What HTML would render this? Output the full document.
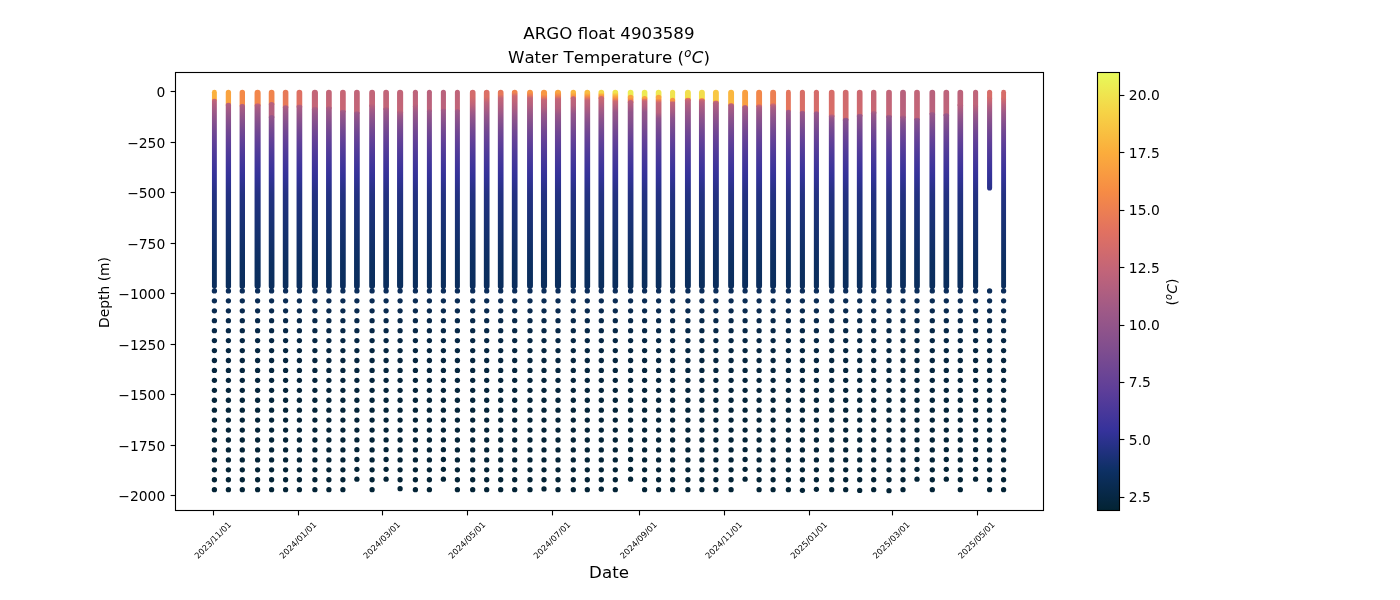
<!DOCTYPE html>
<html lang="en"><head><meta charset="utf-8"><title>ARGO float 4903589</title>
<style>html,body{margin:0;padding:0;background:#fff}svg{display:block}text{font-family:"DejaVu Sans","Liberation Sans",sans-serif;fill:#000}</style></head><body>
<svg width="1400" height="600" viewBox="0 0 1400 600">
<rect width="1400" height="600" fill="#fff"/>
<defs><linearGradient id="g0" gradientUnits="userSpaceOnUse" x1="0" x2="0" y1="98.6" y2="289.6"><stop offset="0.0000" stop-color="#f48947"/><stop offset="0.0026" stop-color="#ce696f"/><stop offset="0.0052" stop-color="#c46577"/><stop offset="0.0079" stop-color="#c06479"/><stop offset="0.0105" stop-color="#bf637a"/><stop offset="0.0157" stop-color="#bb627b"/><stop offset="0.0209" stop-color="#b8617d"/><stop offset="0.0314" stop-color="#b15f7f"/><stop offset="0.0419" stop-color="#ac5d82"/><stop offset="0.0576" stop-color="#a35b85"/><stop offset="0.0786" stop-color="#995788"/><stop offset="0.1210" stop-color="#86508d"/><stop offset="0.1697" stop-color="#734892"/><stop offset="0.2168" stop-color="#644197"/><stop offset="0.2639" stop-color="#553c99"/><stop offset="0.3132" stop-color="#48389a"/><stop offset="0.3614" stop-color="#3d349b"/><stop offset="0.4090" stop-color="#333298"/><stop offset="0.4577" stop-color="#2b318d"/><stop offset="0.5048" stop-color="#233182"/><stop offset="0.6709" stop-color="#173172"/><stop offset="0.8610" stop-color="#0c2f61"/><stop offset="0.9762" stop-color="#0b2e5d"/><stop offset="1.0000" stop-color="#0b2e5b"/></linearGradient>
<linearGradient id="g1" gradientUnits="userSpaceOnUse" x1="0" x2="0" y1="102.6" y2="289.4"><stop offset="0.0000" stop-color="#ec7f52"/><stop offset="0.0027" stop-color="#c26578"/><stop offset="0.0054" stop-color="#b7617d"/><stop offset="0.0080" stop-color="#b4607e"/><stop offset="0.0107" stop-color="#b25f7f"/><stop offset="0.0161" stop-color="#ae5e80"/><stop offset="0.0214" stop-color="#ac5d82"/><stop offset="0.0321" stop-color="#a65b84"/><stop offset="0.0428" stop-color="#a05a86"/><stop offset="0.0589" stop-color="#995788"/><stop offset="0.0803" stop-color="#8f548b"/><stop offset="0.1023" stop-color="#86508d"/><stop offset="0.1521" stop-color="#734892"/><stop offset="0.2003" stop-color="#644197"/><stop offset="0.2485" stop-color="#553c99"/><stop offset="0.2988" stop-color="#48389a"/><stop offset="0.3481" stop-color="#3d349b"/><stop offset="0.3968" stop-color="#333298"/><stop offset="0.4466" stop-color="#2b318d"/><stop offset="0.4948" stop-color="#233182"/><stop offset="0.6645" stop-color="#173172"/><stop offset="0.8589" stop-color="#0c2f61"/><stop offset="0.9767" stop-color="#0b2e5d"/><stop offset="1.0000" stop-color="#0b2e5c"/></linearGradient>
<linearGradient id="g2" gradientUnits="userSpaceOnUse" x1="0" x2="0" y1="103.7" y2="289.3"><stop offset="0.0000" stop-color="#e17260"/><stop offset="0.0027" stop-color="#bc627b"/><stop offset="0.0054" stop-color="#b3607f"/><stop offset="0.0081" stop-color="#b05f80"/><stop offset="0.0108" stop-color="#ae5e80"/><stop offset="0.0162" stop-color="#ab5d82"/><stop offset="0.0216" stop-color="#a85c83"/><stop offset="0.0323" stop-color="#a35a85"/><stop offset="0.0431" stop-color="#9d5987"/><stop offset="0.0593" stop-color="#965689"/><stop offset="0.0808" stop-color="#8d538b"/><stop offset="0.0970" stop-color="#86508d"/><stop offset="0.1471" stop-color="#734892"/><stop offset="0.1956" stop-color="#644197"/><stop offset="0.2441" stop-color="#553c99"/><stop offset="0.2947" stop-color="#48389a"/><stop offset="0.3443" stop-color="#3d349b"/><stop offset="0.3933" stop-color="#333298"/><stop offset="0.4434" stop-color="#2b318d"/><stop offset="0.4919" stop-color="#233182"/><stop offset="0.6627" stop-color="#173172"/><stop offset="0.8583" stop-color="#0c2f61"/><stop offset="0.9768" stop-color="#0b2e5d"/><stop offset="1.0000" stop-color="#0b2e5c"/></linearGradient>
<linearGradient id="g3" gradientUnits="userSpaceOnUse" x1="0" x2="0" y1="103.1" y2="288.9"><stop offset="0.0000" stop-color="#ea7c55"/><stop offset="0.0027" stop-color="#d46c6b"/><stop offset="0.0054" stop-color="#c56676"/><stop offset="0.0081" stop-color="#bb627b"/><stop offset="0.0108" stop-color="#b5607e"/><stop offset="0.0161" stop-color="#af5e80"/><stop offset="0.0215" stop-color="#ab5d82"/><stop offset="0.0323" stop-color="#a45b84"/><stop offset="0.0430" stop-color="#9f5987"/><stop offset="0.0592" stop-color="#975789"/><stop offset="0.0807" stop-color="#8e538b"/><stop offset="0.1001" stop-color="#86508d"/><stop offset="0.1501" stop-color="#734892"/><stop offset="0.1985" stop-color="#644197"/><stop offset="0.2470" stop-color="#553c99"/><stop offset="0.2976" stop-color="#48389a"/><stop offset="0.3471" stop-color="#3d349b"/><stop offset="0.3960" stop-color="#333298"/><stop offset="0.4461" stop-color="#2b318d"/><stop offset="0.4945" stop-color="#233182"/><stop offset="0.6651" stop-color="#173172"/><stop offset="0.8604" stop-color="#0c2f61"/><stop offset="0.9787" stop-color="#0b2e5d"/><stop offset="1.0000" stop-color="#0b2e5c"/></linearGradient>
<linearGradient id="g4" gradientUnits="userSpaceOnUse" x1="0" x2="0" y1="102.0" y2="115.0"><stop offset="0.0000" stop-color="#b8617c"/><stop offset="1.0000" stop-color="#b25f7f"/></linearGradient>
<linearGradient id="g5" gradientUnits="userSpaceOnUse" x1="0" x2="0" y1="115.0" y2="289.1"><stop offset="0.0000" stop-color="#975689"/><stop offset="0.0385" stop-color="#86508d"/><stop offset="0.0500" stop-color="#824f8e"/><stop offset="0.0614" stop-color="#7e4d8f"/><stop offset="0.0787" stop-color="#784a91"/><stop offset="0.1016" stop-color="#704793"/><stop offset="0.1246" stop-color="#6a4495"/><stop offset="0.1436" stop-color="#644197"/><stop offset="0.1952" stop-color="#553c99"/><stop offset="0.2492" stop-color="#48389a"/><stop offset="0.3020" stop-color="#3d349b"/><stop offset="0.3543" stop-color="#333298"/><stop offset="0.4077" stop-color="#2b318d"/><stop offset="0.4594" stop-color="#233182"/><stop offset="0.6414" stop-color="#173172"/><stop offset="0.8498" stop-color="#0c2f61"/><stop offset="0.9762" stop-color="#0b2e5d"/><stop offset="1.0000" stop-color="#0b2e5c"/></linearGradient>
<linearGradient id="g6" gradientUnits="userSpaceOnUse" x1="0" x2="0" y1="104.9" y2="289.2"><stop offset="0.0000" stop-color="#de7063"/><stop offset="0.0027" stop-color="#c46577"/><stop offset="0.0054" stop-color="#b7617d"/><stop offset="0.0081" stop-color="#b05f80"/><stop offset="0.0109" stop-color="#ad5e81"/><stop offset="0.0163" stop-color="#a85c83"/><stop offset="0.0217" stop-color="#a55b84"/><stop offset="0.0326" stop-color="#9f5987"/><stop offset="0.0434" stop-color="#9a5888"/><stop offset="0.0597" stop-color="#93558a"/><stop offset="0.0814" stop-color="#8a528c"/><stop offset="0.0912" stop-color="#86508d"/><stop offset="0.1416" stop-color="#734892"/><stop offset="0.1905" stop-color="#644197"/><stop offset="0.2393" stop-color="#553c99"/><stop offset="0.2903" stop-color="#48389a"/><stop offset="0.3402" stop-color="#3d349b"/><stop offset="0.3896" stop-color="#333298"/><stop offset="0.4400" stop-color="#2b318d"/><stop offset="0.4889" stop-color="#233182"/><stop offset="0.6609" stop-color="#173172"/><stop offset="0.8578" stop-color="#0c2f61"/><stop offset="0.9772" stop-color="#0b2e5d"/><stop offset="1.0000" stop-color="#0b2e5c"/></linearGradient>
<linearGradient id="g7" gradientUnits="userSpaceOnUse" x1="0" x2="0" y1="104.3" y2="289.1"><stop offset="0.0000" stop-color="#d56c6a"/><stop offset="0.0027" stop-color="#c16479"/><stop offset="0.0054" stop-color="#b7617d"/><stop offset="0.0081" stop-color="#b15f7f"/><stop offset="0.0108" stop-color="#ae5e81"/><stop offset="0.0162" stop-color="#aa5d82"/><stop offset="0.0216" stop-color="#a75c84"/><stop offset="0.0325" stop-color="#a15a86"/><stop offset="0.0433" stop-color="#9c5888"/><stop offset="0.0595" stop-color="#955589"/><stop offset="0.0811" stop-color="#8c528c"/><stop offset="0.0941" stop-color="#86508d"/><stop offset="0.1444" stop-color="#734892"/><stop offset="0.1931" stop-color="#644197"/><stop offset="0.2418" stop-color="#553c99"/><stop offset="0.2927" stop-color="#48389a"/><stop offset="0.3424" stop-color="#3d349b"/><stop offset="0.3917" stop-color="#333298"/><stop offset="0.4420" stop-color="#2b318d"/><stop offset="0.4907" stop-color="#233182"/><stop offset="0.6622" stop-color="#173172"/><stop offset="0.8585" stop-color="#0c2f61"/><stop offset="0.9775" stop-color="#0b2e5d"/><stop offset="1.0000" stop-color="#0b2e5c"/></linearGradient>
<linearGradient id="g8" gradientUnits="userSpaceOnUse" x1="0" x2="0" y1="106.6" y2="288.9"><stop offset="0.0000" stop-color="#bf637a"/><stop offset="0.0027" stop-color="#b5607e"/><stop offset="0.0055" stop-color="#af5e80"/><stop offset="0.0082" stop-color="#ab5d82"/><stop offset="0.0110" stop-color="#a85c83"/><stop offset="0.0165" stop-color="#a45b85"/><stop offset="0.0219" stop-color="#a05a86"/><stop offset="0.0329" stop-color="#9b5888"/><stop offset="0.0439" stop-color="#965689"/><stop offset="0.0603" stop-color="#8f548b"/><stop offset="0.0823" stop-color="#86508d"/><stop offset="0.0828" stop-color="#86508d"/><stop offset="0.1338" stop-color="#734892"/><stop offset="0.1832" stop-color="#644197"/><stop offset="0.2325" stop-color="#553c99"/><stop offset="0.2841" stop-color="#48389a"/><stop offset="0.3345" stop-color="#3d349b"/><stop offset="0.3844" stop-color="#333298"/><stop offset="0.4354" stop-color="#2b318d"/><stop offset="0.4848" stop-color="#233182"/><stop offset="0.6586" stop-color="#173172"/><stop offset="0.8577" stop-color="#0c2f61"/><stop offset="0.9783" stop-color="#0b2e5d"/><stop offset="1.0000" stop-color="#0b2e5c"/></linearGradient>
<linearGradient id="g9" gradientUnits="userSpaceOnUse" x1="0" x2="0" y1="106.0" y2="289.1"><stop offset="0.0000" stop-color="#c06479"/><stop offset="0.0027" stop-color="#b8617d"/><stop offset="0.0055" stop-color="#b25f7f"/><stop offset="0.0082" stop-color="#ae5e81"/><stop offset="0.0109" stop-color="#ab5d82"/><stop offset="0.0164" stop-color="#a65c84"/><stop offset="0.0218" stop-color="#a25a85"/><stop offset="0.0328" stop-color="#9c5887"/><stop offset="0.0437" stop-color="#985789"/><stop offset="0.0601" stop-color="#91548a"/><stop offset="0.0819" stop-color="#88518d"/><stop offset="0.0857" stop-color="#86508d"/><stop offset="0.1365" stop-color="#734892"/><stop offset="0.1856" stop-color="#644197"/><stop offset="0.2348" stop-color="#553c99"/><stop offset="0.2861" stop-color="#48389a"/><stop offset="0.3363" stop-color="#3d349b"/><stop offset="0.3860" stop-color="#333298"/><stop offset="0.4368" stop-color="#2b318d"/><stop offset="0.4859" stop-color="#233182"/><stop offset="0.6590" stop-color="#173172"/><stop offset="0.8572" stop-color="#0c2f61"/><stop offset="0.9773" stop-color="#0b2e5d"/><stop offset="1.0000" stop-color="#0b2e5c"/></linearGradient>
<linearGradient id="g10" gradientUnits="userSpaceOnUse" x1="0" x2="0" y1="109.4" y2="289.1"><stop offset="0.0000" stop-color="#c16479"/><stop offset="0.0028" stop-color="#b35f7f"/><stop offset="0.0056" stop-color="#aa5d82"/><stop offset="0.0083" stop-color="#a45b84"/><stop offset="0.0111" stop-color="#a15a86"/><stop offset="0.0167" stop-color="#9c5887"/><stop offset="0.0223" stop-color="#995788"/><stop offset="0.0334" stop-color="#945589"/><stop offset="0.0445" stop-color="#90548b"/><stop offset="0.0612" stop-color="#89518c"/><stop offset="0.0834" stop-color="#814e8e"/><stop offset="0.1202" stop-color="#734892"/><stop offset="0.1702" stop-color="#644197"/><stop offset="0.2203" stop-color="#553c99"/><stop offset="0.2726" stop-color="#48389a"/><stop offset="0.3238" stop-color="#3d349b"/><stop offset="0.3744" stop-color="#333298"/><stop offset="0.4261" stop-color="#2b318d"/><stop offset="0.4762" stop-color="#233182"/><stop offset="0.6526" stop-color="#173172"/><stop offset="0.8545" stop-color="#0c2f61"/><stop offset="0.9769" stop-color="#0b2e5d"/><stop offset="1.0000" stop-color="#0b2e5c"/></linearGradient>
<linearGradient id="g11" gradientUnits="userSpaceOnUse" x1="0" x2="0" y1="111.0" y2="289.1"><stop offset="0.0000" stop-color="#bd637a"/><stop offset="0.0028" stop-color="#b15f80"/><stop offset="0.0056" stop-color="#a85c83"/><stop offset="0.0084" stop-color="#a25a85"/><stop offset="0.0112" stop-color="#9e5987"/><stop offset="0.0168" stop-color="#995788"/><stop offset="0.0225" stop-color="#965689"/><stop offset="0.0337" stop-color="#91548a"/><stop offset="0.0449" stop-color="#8c528b"/><stop offset="0.0617" stop-color="#85508d"/><stop offset="0.0842" stop-color="#7d4d8f"/><stop offset="0.1123" stop-color="#734892"/><stop offset="0.1628" stop-color="#644197"/><stop offset="0.2133" stop-color="#553c99"/><stop offset="0.2661" stop-color="#48389a"/><stop offset="0.3177" stop-color="#3d349b"/><stop offset="0.3688" stop-color="#333298"/><stop offset="0.4210" stop-color="#2b318d"/><stop offset="0.4715" stop-color="#233182"/><stop offset="0.6495" stop-color="#173172"/><stop offset="0.8532" stop-color="#0c2f61"/><stop offset="0.9767" stop-color="#0b2e5d"/><stop offset="1.0000" stop-color="#0b2e5c"/></linearGradient>
<linearGradient id="g12" gradientUnits="userSpaceOnUse" x1="0" x2="0" y1="103.5" y2="289.1"><stop offset="0.0000" stop-color="#c26479"/><stop offset="0.0027" stop-color="#bf637a"/><stop offset="0.0054" stop-color="#bc637b"/><stop offset="0.0081" stop-color="#ba627c"/><stop offset="0.0108" stop-color="#b7617d"/><stop offset="0.0162" stop-color="#b25f7f"/><stop offset="0.0216" stop-color="#ae5e81"/><stop offset="0.0323" stop-color="#a65b84"/><stop offset="0.0431" stop-color="#9f5987"/><stop offset="0.0593" stop-color="#975689"/><stop offset="0.0808" stop-color="#8d538b"/><stop offset="0.0981" stop-color="#86508d"/><stop offset="0.1482" stop-color="#734892"/><stop offset="0.1967" stop-color="#644197"/><stop offset="0.2452" stop-color="#553c99"/><stop offset="0.2958" stop-color="#48389a"/><stop offset="0.3454" stop-color="#3d349b"/><stop offset="0.3944" stop-color="#333298"/><stop offset="0.4445" stop-color="#2b318d"/><stop offset="0.4930" stop-color="#233182"/><stop offset="0.6638" stop-color="#173172"/><stop offset="0.8594" stop-color="#0c2f61"/><stop offset="0.9779" stop-color="#0b2e5d"/><stop offset="1.0000" stop-color="#0b2e5c"/></linearGradient>
<linearGradient id="g13" gradientUnits="userSpaceOnUse" x1="0" x2="0" y1="107.0" y2="289.1"><stop offset="0.0000" stop-color="#bf637a"/><stop offset="0.0027" stop-color="#b6617d"/><stop offset="0.0055" stop-color="#b05f80"/><stop offset="0.0082" stop-color="#ac5d82"/><stop offset="0.0110" stop-color="#a85c83"/><stop offset="0.0165" stop-color="#a35b85"/><stop offset="0.0220" stop-color="#9f5986"/><stop offset="0.0329" stop-color="#9a5788"/><stop offset="0.0439" stop-color="#955689"/><stop offset="0.0604" stop-color="#8e538b"/><stop offset="0.0823" stop-color="#85508d"/><stop offset="0.1318" stop-color="#734892"/><stop offset="0.1812" stop-color="#644197"/><stop offset="0.2306" stop-color="#553c99"/><stop offset="0.2822" stop-color="#48389a"/><stop offset="0.3327" stop-color="#3d349b"/><stop offset="0.3827" stop-color="#333298"/><stop offset="0.4337" stop-color="#2b318d"/><stop offset="0.4831" stop-color="#233182"/><stop offset="0.6572" stop-color="#173172"/><stop offset="0.8564" stop-color="#0c2f61"/><stop offset="0.9772" stop-color="#0b2e5d"/><stop offset="1.0000" stop-color="#0b2e5c"/></linearGradient>
<linearGradient id="g14" gradientUnits="userSpaceOnUse" x1="0" x2="0" y1="110.0" y2="288.9"><stop offset="0.0000" stop-color="#c16479"/><stop offset="0.0028" stop-color="#bd637a"/><stop offset="0.0056" stop-color="#ba627c"/><stop offset="0.0084" stop-color="#b6617d"/><stop offset="0.0112" stop-color="#b25f7f"/><stop offset="0.0168" stop-color="#ac5d81"/><stop offset="0.0224" stop-color="#a65c84"/><stop offset="0.0335" stop-color="#9d5887"/><stop offset="0.0447" stop-color="#955689"/><stop offset="0.0615" stop-color="#8b528c"/><stop offset="0.0838" stop-color="#814e8e"/><stop offset="0.1174" stop-color="#744892"/><stop offset="0.1676" stop-color="#644197"/><stop offset="0.2179" stop-color="#553c99"/><stop offset="0.2705" stop-color="#48389a"/><stop offset="0.3219" stop-color="#3d349b"/><stop offset="0.3727" stop-color="#333298"/><stop offset="0.4247" stop-color="#2b318d"/><stop offset="0.4750" stop-color="#233182"/><stop offset="0.6521" stop-color="#173172"/><stop offset="0.8550" stop-color="#0c2f61"/><stop offset="0.9779" stop-color="#0b2e5d"/><stop offset="1.0000" stop-color="#0b2e5c"/></linearGradient>
<linearGradient id="g15" gradientUnits="userSpaceOnUse" x1="0" x2="0" y1="104.0" y2="289.4"><stop offset="0.0000" stop-color="#be637a"/><stop offset="0.0027" stop-color="#bb627b"/><stop offset="0.0054" stop-color="#b9627c"/><stop offset="0.0081" stop-color="#b7617d"/><stop offset="0.0108" stop-color="#b5607e"/><stop offset="0.0162" stop-color="#b05f80"/><stop offset="0.0216" stop-color="#ac5d81"/><stop offset="0.0324" stop-color="#a45b85"/><stop offset="0.0431" stop-color="#9d5987"/><stop offset="0.0593" stop-color="#965689"/><stop offset="0.0809" stop-color="#8c528b"/><stop offset="0.0954" stop-color="#86508d"/><stop offset="0.1456" stop-color="#734892"/><stop offset="0.1941" stop-color="#644197"/><stop offset="0.2427" stop-color="#553c99"/><stop offset="0.2933" stop-color="#48389a"/><stop offset="0.3429" stop-color="#3d349b"/><stop offset="0.3920" stop-color="#333298"/><stop offset="0.4422" stop-color="#2b318d"/><stop offset="0.4907" stop-color="#233182"/><stop offset="0.6616" stop-color="#173172"/><stop offset="0.8574" stop-color="#0c2f61"/><stop offset="0.9760" stop-color="#0b2e5d"/><stop offset="1.0000" stop-color="#0b2e5c"/></linearGradient>
<linearGradient id="g16" gradientUnits="userSpaceOnUse" x1="0" x2="0" y1="109.0" y2="289.5"><stop offset="0.0000" stop-color="#b7617d"/><stop offset="0.0028" stop-color="#af5e80"/><stop offset="0.0055" stop-color="#aa5d82"/><stop offset="0.0083" stop-color="#a55b84"/><stop offset="0.0111" stop-color="#a25a85"/><stop offset="0.0166" stop-color="#9d5987"/><stop offset="0.0222" stop-color="#9a5888"/><stop offset="0.0332" stop-color="#955689"/><stop offset="0.0443" stop-color="#91548a"/><stop offset="0.0609" stop-color="#8a518c"/><stop offset="0.0831" stop-color="#814e8e"/><stop offset="0.1219" stop-color="#734892"/><stop offset="0.1717" stop-color="#644197"/><stop offset="0.2216" stop-color="#553c99"/><stop offset="0.2737" stop-color="#48389a"/><stop offset="0.3247" stop-color="#3d349b"/><stop offset="0.3751" stop-color="#333298"/><stop offset="0.4266" stop-color="#2b318d"/><stop offset="0.4765" stop-color="#233182"/><stop offset="0.6521" stop-color="#173172"/><stop offset="0.8532" stop-color="#0c2f61"/><stop offset="0.9751" stop-color="#0b2e5d"/><stop offset="1.0000" stop-color="#0b2e5b"/></linearGradient>
<linearGradient id="g17" gradientUnits="userSpaceOnUse" x1="0" x2="0" y1="108.3" y2="289.4"><stop offset="0.0000" stop-color="#b5607e"/><stop offset="0.0028" stop-color="#ab5d82"/><stop offset="0.0055" stop-color="#a65c84"/><stop offset="0.0083" stop-color="#a35b85"/><stop offset="0.0110" stop-color="#a15a86"/><stop offset="0.0166" stop-color="#9e5987"/><stop offset="0.0221" stop-color="#9c5888"/><stop offset="0.0331" stop-color="#975689"/><stop offset="0.0442" stop-color="#92558a"/><stop offset="0.0607" stop-color="#8c528c"/><stop offset="0.0828" stop-color="#834f8e"/><stop offset="0.1253" stop-color="#734892"/><stop offset="0.1750" stop-color="#644197"/><stop offset="0.2247" stop-color="#553c99"/><stop offset="0.2766" stop-color="#48389a"/><stop offset="0.3274" stop-color="#3d349b"/><stop offset="0.3776" stop-color="#333298"/><stop offset="0.4289" stop-color="#2b318d"/><stop offset="0.4786" stop-color="#233182"/><stop offset="0.6536" stop-color="#173172"/><stop offset="0.8540" stop-color="#0c2f61"/><stop offset="0.9754" stop-color="#0b2e5d"/><stop offset="1.0000" stop-color="#0b2e5c"/></linearGradient>
<linearGradient id="g18" gradientUnits="userSpaceOnUse" x1="0" x2="0" y1="108.9" y2="289.5"><stop offset="0.0000" stop-color="#b9627c"/><stop offset="0.0028" stop-color="#ab5d82"/><stop offset="0.0055" stop-color="#a55b84"/><stop offset="0.0083" stop-color="#a25a85"/><stop offset="0.0111" stop-color="#a05a86"/><stop offset="0.0166" stop-color="#9d5887"/><stop offset="0.0221" stop-color="#9a5888"/><stop offset="0.0332" stop-color="#965689"/><stop offset="0.0443" stop-color="#91548a"/><stop offset="0.0609" stop-color="#8a528c"/><stop offset="0.0831" stop-color="#824e8e"/><stop offset="0.1224" stop-color="#734892"/><stop offset="0.1722" stop-color="#644197"/><stop offset="0.2220" stop-color="#553c99"/><stop offset="0.2741" stop-color="#48389a"/><stop offset="0.3250" stop-color="#3d349b"/><stop offset="0.3754" stop-color="#333298"/><stop offset="0.4269" stop-color="#2b318d"/><stop offset="0.4767" stop-color="#233182"/><stop offset="0.6523" stop-color="#173172"/><stop offset="0.8533" stop-color="#0c2f61"/><stop offset="0.9751" stop-color="#0b2e5d"/><stop offset="1.0000" stop-color="#0b2e5b"/></linearGradient>
<linearGradient id="g19" gradientUnits="userSpaceOnUse" x1="0" x2="0" y1="90.0" y2="289.1"><stop offset="0.0000" stop-color="#d36b6c"/><stop offset="0.0346" stop-color="#d36b6c"/><stop offset="0.0748" stop-color="#be637a"/><stop offset="0.1090" stop-color="#a25a85"/><stop offset="0.1190" stop-color="#9c5888"/><stop offset="0.1290" stop-color="#965689"/><stop offset="0.1441" stop-color="#8e538b"/><stop offset="0.1642" stop-color="#85508d"/><stop offset="0.1843" stop-color="#7c4c8f"/><stop offset="0.2059" stop-color="#734892"/><stop offset="0.2511" stop-color="#644197"/><stop offset="0.2963" stop-color="#553c99"/><stop offset="0.3435" stop-color="#48389a"/><stop offset="0.3897" stop-color="#3d349b"/><stop offset="0.4354" stop-color="#333298"/><stop offset="0.4820" stop-color="#2b318d"/><stop offset="0.5272" stop-color="#233182"/><stop offset="0.6864" stop-color="#173172"/><stop offset="0.8687" stop-color="#0c2f61"/><stop offset="0.9792" stop-color="#0b2e5d"/><stop offset="1.0000" stop-color="#0b2e5c"/></linearGradient>
<linearGradient id="g20" gradientUnits="userSpaceOnUse" x1="0" x2="0" y1="90.0" y2="289.1"><stop offset="0.0000" stop-color="#dc6f65"/><stop offset="0.0346" stop-color="#dc6f65"/><stop offset="0.0633" stop-color="#be637a"/><stop offset="0.1090" stop-color="#a25a85"/><stop offset="0.1190" stop-color="#9c5888"/><stop offset="0.1290" stop-color="#965689"/><stop offset="0.1441" stop-color="#8e538b"/><stop offset="0.1642" stop-color="#85508d"/><stop offset="0.1843" stop-color="#7c4c8f"/><stop offset="0.2059" stop-color="#734892"/><stop offset="0.2511" stop-color="#644197"/><stop offset="0.2963" stop-color="#553c99"/><stop offset="0.3435" stop-color="#48389a"/><stop offset="0.3897" stop-color="#3d349b"/><stop offset="0.4354" stop-color="#333298"/><stop offset="0.4820" stop-color="#2b318d"/><stop offset="0.5272" stop-color="#233182"/><stop offset="0.6864" stop-color="#173172"/><stop offset="0.8687" stop-color="#0c2f61"/><stop offset="0.9792" stop-color="#0b2e5d"/><stop offset="1.0000" stop-color="#0b2e5c"/></linearGradient>
<linearGradient id="g21" gradientUnits="userSpaceOnUse" x1="0" x2="0" y1="90.0" y2="289.1"><stop offset="0.0000" stop-color="#e6785a"/><stop offset="0.0226" stop-color="#e6785a"/><stop offset="0.0402" stop-color="#c46577"/><stop offset="0.0748" stop-color="#b4607e"/><stop offset="0.1090" stop-color="#a25a85"/><stop offset="0.1190" stop-color="#9c5888"/><stop offset="0.1290" stop-color="#965689"/><stop offset="0.1441" stop-color="#8e538b"/><stop offset="0.1642" stop-color="#85508d"/><stop offset="0.1843" stop-color="#7c4c8f"/><stop offset="0.2059" stop-color="#734892"/><stop offset="0.2511" stop-color="#644197"/><stop offset="0.2963" stop-color="#553c99"/><stop offset="0.3435" stop-color="#48389a"/><stop offset="0.3897" stop-color="#3d349b"/><stop offset="0.4354" stop-color="#333298"/><stop offset="0.4820" stop-color="#2b318d"/><stop offset="0.5272" stop-color="#233182"/><stop offset="0.6864" stop-color="#173172"/><stop offset="0.8687" stop-color="#0c2f61"/><stop offset="0.9792" stop-color="#0b2e5d"/><stop offset="1.0000" stop-color="#0b2e5c"/></linearGradient>
<linearGradient id="g22" gradientUnits="userSpaceOnUse" x1="0" x2="0" y1="90.0" y2="289.1"><stop offset="0.0000" stop-color="#f0844d"/><stop offset="0.0126" stop-color="#f0844d"/><stop offset="0.0301" stop-color="#cd6970"/><stop offset="0.0703" stop-color="#b8617c"/><stop offset="0.1090" stop-color="#a25a85"/><stop offset="0.1190" stop-color="#9c5888"/><stop offset="0.1290" stop-color="#965689"/><stop offset="0.1441" stop-color="#8e538b"/><stop offset="0.1642" stop-color="#85508d"/><stop offset="0.1843" stop-color="#7c4c8f"/><stop offset="0.2059" stop-color="#734892"/><stop offset="0.2511" stop-color="#644197"/><stop offset="0.2963" stop-color="#553c99"/><stop offset="0.3435" stop-color="#48389a"/><stop offset="0.3897" stop-color="#3d349b"/><stop offset="0.4354" stop-color="#333298"/><stop offset="0.4820" stop-color="#2b318d"/><stop offset="0.5272" stop-color="#233182"/><stop offset="0.6864" stop-color="#173172"/><stop offset="0.8687" stop-color="#0c2f61"/><stop offset="0.9792" stop-color="#0b2e5d"/><stop offset="1.0000" stop-color="#0b2e5c"/></linearGradient>
<linearGradient id="g23" gradientUnits="userSpaceOnUse" x1="0" x2="0" y1="90.0" y2="289.1"><stop offset="0.0000" stop-color="#f79343"/><stop offset="0.0126" stop-color="#f79343"/><stop offset="0.0276" stop-color="#e6785a"/><stop offset="0.0402" stop-color="#c46577"/><stop offset="0.0749" stop-color="#b4607e"/><stop offset="0.1090" stop-color="#9e5987"/><stop offset="0.1191" stop-color="#995788"/><stop offset="0.1291" stop-color="#945589"/><stop offset="0.1442" stop-color="#8d538b"/><stop offset="0.1643" stop-color="#844f8d"/><stop offset="0.1844" stop-color="#7c4c90"/><stop offset="0.2060" stop-color="#734892"/><stop offset="0.2512" stop-color="#644197"/><stop offset="0.2964" stop-color="#553c99"/><stop offset="0.3436" stop-color="#48389a"/><stop offset="0.3899" stop-color="#3d349b"/><stop offset="0.4356" stop-color="#333298"/><stop offset="0.4823" stop-color="#2b318d"/><stop offset="0.5275" stop-color="#233182"/><stop offset="0.6868" stop-color="#173172"/><stop offset="0.8691" stop-color="#0c2f61"/><stop offset="0.9797" stop-color="#0b2e5d"/><stop offset="1.0000" stop-color="#0b2e5c"/></linearGradient>
<linearGradient id="g24" gradientUnits="userSpaceOnUse" x1="0" x2="0" y1="90.0" y2="288.9"><stop offset="0.0000" stop-color="#f89742"/><stop offset="0.0226" stop-color="#f89742"/><stop offset="0.0377" stop-color="#e6785a"/><stop offset="0.0503" stop-color="#c46577"/><stop offset="0.0854" stop-color="#b4607e"/><stop offset="0.1206" stop-color="#985788"/><stop offset="0.1307" stop-color="#94558a"/><stop offset="0.1407" stop-color="#8f538b"/><stop offset="0.1558" stop-color="#88518d"/><stop offset="0.1759" stop-color="#804e8f"/><stop offset="0.1960" stop-color="#774a91"/><stop offset="0.2061" stop-color="#734892"/><stop offset="0.2513" stop-color="#644197"/><stop offset="0.2966" stop-color="#553c99"/><stop offset="0.3438" stop-color="#48389a"/><stop offset="0.3900" stop-color="#3d349b"/><stop offset="0.4358" stop-color="#333298"/><stop offset="0.4825" stop-color="#2b318d"/><stop offset="0.5278" stop-color="#233182"/><stop offset="0.6871" stop-color="#173172"/><stop offset="0.8696" stop-color="#0c2f61"/><stop offset="0.9801" stop-color="#0b2e5d"/><stop offset="1.0000" stop-color="#0b2e5c"/></linearGradient>
<linearGradient id="g25" gradientUnits="userSpaceOnUse" x1="0" x2="0" y1="90.0" y2="288.9"><stop offset="0.0000" stop-color="#f9a33f"/><stop offset="0.0126" stop-color="#f9a33f"/><stop offset="0.0302" stop-color="#ec7f52"/><stop offset="0.0452" stop-color="#c46577"/><stop offset="0.0920" stop-color="#b4607e"/><stop offset="0.1257" stop-color="#985788"/><stop offset="0.1357" stop-color="#93558a"/><stop offset="0.1458" stop-color="#8e538b"/><stop offset="0.1608" stop-color="#86508d"/><stop offset="0.1809" stop-color="#7e4d8f"/><stop offset="0.2011" stop-color="#764992"/><stop offset="0.2061" stop-color="#734892"/><stop offset="0.2513" stop-color="#644197"/><stop offset="0.2966" stop-color="#553c99"/><stop offset="0.3438" stop-color="#48389a"/><stop offset="0.3900" stop-color="#3d349b"/><stop offset="0.4358" stop-color="#333298"/><stop offset="0.4825" stop-color="#2b318d"/><stop offset="0.5278" stop-color="#233182"/><stop offset="0.6871" stop-color="#173172"/><stop offset="0.8696" stop-color="#0c2f61"/><stop offset="0.9801" stop-color="#0b2e5d"/><stop offset="1.0000" stop-color="#0b2e5c"/></linearGradient>
<linearGradient id="g26" gradientUnits="userSpaceOnUse" x1="0" x2="0" y1="90.0" y2="96.3"><stop offset="0.0000" stop-color="#fab73f"/><stop offset="0.3968" stop-color="#fab73f"/><stop offset="0.7143" stop-color="#f9a33f"/><stop offset="1.0000" stop-color="#f78f44"/></linearGradient>
<linearGradient id="g27" gradientUnits="userSpaceOnUse" x1="0" x2="0" y1="96.3" y2="289.3"><stop offset="0.0000" stop-color="#c46577"/><stop offset="0.0472" stop-color="#b6617d"/><stop offset="0.0917" stop-color="#93558a"/><stop offset="0.1021" stop-color="#90548b"/><stop offset="0.1124" stop-color="#8c528b"/><stop offset="0.1280" stop-color="#86508d"/><stop offset="0.1487" stop-color="#7f4d8f"/><stop offset="0.1694" stop-color="#774a91"/><stop offset="0.1798" stop-color="#734892"/><stop offset="0.2264" stop-color="#644197"/><stop offset="0.2731" stop-color="#553c99"/><stop offset="0.3218" stop-color="#48389a"/><stop offset="0.3694" stop-color="#3d349b"/><stop offset="0.4166" stop-color="#333298"/><stop offset="0.4648" stop-color="#2b318d"/><stop offset="0.5114" stop-color="#233182"/><stop offset="0.6756" stop-color="#173172"/><stop offset="0.8637" stop-color="#0c2f61"/><stop offset="0.9777" stop-color="#0b2e5d"/><stop offset="1.0000" stop-color="#0b2e5c"/></linearGradient>
<linearGradient id="g28" gradientUnits="userSpaceOnUse" x1="0" x2="0" y1="90.0" y2="289.1"><stop offset="0.0000" stop-color="#f9bc40"/><stop offset="0.0151" stop-color="#f9bc40"/><stop offset="0.0276" stop-color="#f89941"/><stop offset="0.0402" stop-color="#e6785a"/><stop offset="0.0517" stop-color="#c46577"/><stop offset="0.0773" stop-color="#b8617c"/><stop offset="0.1120" stop-color="#a25a85"/><stop offset="0.1220" stop-color="#9b5888"/><stop offset="0.1321" stop-color="#965689"/><stop offset="0.1471" stop-color="#8d538b"/><stop offset="0.1672" stop-color="#844f8e"/><stop offset="0.1873" stop-color="#7b4c90"/><stop offset="0.2059" stop-color="#744892"/><stop offset="0.2511" stop-color="#644197"/><stop offset="0.2963" stop-color="#553c99"/><stop offset="0.3435" stop-color="#48389a"/><stop offset="0.3897" stop-color="#3d349b"/><stop offset="0.4354" stop-color="#333298"/><stop offset="0.4820" stop-color="#2b318d"/><stop offset="0.5272" stop-color="#233182"/><stop offset="0.6864" stop-color="#173172"/><stop offset="0.8687" stop-color="#0c2f61"/><stop offset="0.9792" stop-color="#0b2e5d"/><stop offset="1.0000" stop-color="#0b2e5c"/></linearGradient>
<linearGradient id="g29" gradientUnits="userSpaceOnUse" x1="0" x2="0" y1="90.0" y2="96.0"><stop offset="0.0000" stop-color="#f4d849"/><stop offset="0.4667" stop-color="#f4d849"/><stop offset="0.7500" stop-color="#fbac3c"/><stop offset="1.0000" stop-color="#f78f44"/></linearGradient>
<linearGradient id="g30" gradientUnits="userSpaceOnUse" x1="0" x2="0" y1="96.0" y2="289.1"><stop offset="0.0000" stop-color="#d16b6d"/><stop offset="0.0487" stop-color="#b4607e"/><stop offset="0.0844" stop-color="#9e5987"/><stop offset="0.0947" stop-color="#995788"/><stop offset="0.1051" stop-color="#94558a"/><stop offset="0.1206" stop-color="#8c528b"/><stop offset="0.1413" stop-color="#834f8e"/><stop offset="0.1621" stop-color="#7b4c90"/><stop offset="0.1812" stop-color="#734892"/><stop offset="0.2278" stop-color="#644197"/><stop offset="0.2744" stop-color="#553c99"/><stop offset="0.3231" stop-color="#48389a"/><stop offset="0.3707" stop-color="#3d349b"/><stop offset="0.4178" stop-color="#333298"/><stop offset="0.4660" stop-color="#2b318d"/><stop offset="0.5126" stop-color="#233182"/><stop offset="0.6767" stop-color="#173172"/><stop offset="0.8646" stop-color="#0c2f61"/><stop offset="0.9785" stop-color="#0b2e5d"/><stop offset="1.0000" stop-color="#0b2e5c"/></linearGradient>
<linearGradient id="g31" gradientUnits="userSpaceOnUse" x1="0" x2="0" y1="90.0" y2="289.1"><stop offset="0.0000" stop-color="#f0e44e"/><stop offset="0.0131" stop-color="#f0e44e"/><stop offset="0.0216" stop-color="#f8c743"/><stop offset="0.0346" stop-color="#f9a13f"/><stop offset="0.0472" stop-color="#ec7f52"/><stop offset="0.0552" stop-color="#cd6970"/><stop offset="0.0803" stop-color="#b6617d"/><stop offset="0.1120" stop-color="#985788"/><stop offset="0.1220" stop-color="#955689"/><stop offset="0.1321" stop-color="#91548a"/><stop offset="0.1471" stop-color="#8b528c"/><stop offset="0.1672" stop-color="#824f8e"/><stop offset="0.1873" stop-color="#7b4b90"/><stop offset="0.2059" stop-color="#734892"/><stop offset="0.2511" stop-color="#644197"/><stop offset="0.2963" stop-color="#553c99"/><stop offset="0.3435" stop-color="#48389a"/><stop offset="0.3897" stop-color="#3d349b"/><stop offset="0.4354" stop-color="#333298"/><stop offset="0.4820" stop-color="#2b318d"/><stop offset="0.5272" stop-color="#233182"/><stop offset="0.6864" stop-color="#173172"/><stop offset="0.8687" stop-color="#0c2f61"/><stop offset="0.9792" stop-color="#0b2e5d"/><stop offset="1.0000" stop-color="#0b2e5c"/></linearGradient>
<linearGradient id="g32" gradientUnits="userSpaceOnUse" x1="0" x2="0" y1="94.7" y2="99.9"><stop offset="0.0000" stop-color="#f9a33f"/><stop offset="0.5769" stop-color="#f9a33f"/><stop offset="1.0000" stop-color="#ef824f"/></linearGradient>
<linearGradient id="g33" gradientUnits="userSpaceOnUse" x1="0" x2="0" y1="99.9" y2="289.1"><stop offset="0.0000" stop-color="#be637a"/><stop offset="0.0291" stop-color="#ac5d81"/><stop offset="0.0655" stop-color="#91548a"/><stop offset="0.0761" stop-color="#8f548b"/><stop offset="0.0867" stop-color="#8d538b"/><stop offset="0.1025" stop-color="#88518c"/><stop offset="0.1236" stop-color="#814e8e"/><stop offset="0.1448" stop-color="#7a4b90"/><stop offset="0.1643" stop-color="#734892"/><stop offset="0.2119" stop-color="#644197"/><stop offset="0.2594" stop-color="#553c99"/><stop offset="0.3091" stop-color="#48389a"/><stop offset="0.3577" stop-color="#3d349b"/><stop offset="0.4058" stop-color="#333298"/><stop offset="0.4550" stop-color="#2b318d"/><stop offset="0.5025" stop-color="#233182"/><stop offset="0.6700" stop-color="#173172"/><stop offset="0.8618" stop-color="#0c2f61"/><stop offset="0.9781" stop-color="#0b2e5d"/><stop offset="1.0000" stop-color="#0b2e5c"/></linearGradient>
<linearGradient id="g34" gradientUnits="userSpaceOnUse" x1="0" x2="0" y1="96.0" y2="289.2"><stop offset="0.0000" stop-color="#f9a33f"/><stop offset="0.0109" stop-color="#f9a33f"/><stop offset="0.0176" stop-color="#e6785a"/><stop offset="0.0259" stop-color="#c46577"/><stop offset="0.0533" stop-color="#b25f7f"/><stop offset="0.0844" stop-color="#93558a"/><stop offset="0.0947" stop-color="#91548a"/><stop offset="0.1051" stop-color="#8e538b"/><stop offset="0.1206" stop-color="#89518c"/><stop offset="0.1413" stop-color="#814e8e"/><stop offset="0.1620" stop-color="#7a4b90"/><stop offset="0.1812" stop-color="#734892"/><stop offset="0.2277" stop-color="#644197"/><stop offset="0.2743" stop-color="#553c99"/><stop offset="0.3230" stop-color="#48389a"/><stop offset="0.3706" stop-color="#3d349b"/><stop offset="0.4177" stop-color="#333298"/><stop offset="0.4658" stop-color="#2b318d"/><stop offset="0.5124" stop-color="#233182"/><stop offset="0.6765" stop-color="#173172"/><stop offset="0.8644" stop-color="#0c2f61"/><stop offset="0.9783" stop-color="#0b2e5d"/><stop offset="1.0000" stop-color="#0b2e5c"/></linearGradient>
<linearGradient id="g35" gradientUnits="userSpaceOnUse" x1="0" x2="0" y1="94.7" y2="289.1"><stop offset="0.0000" stop-color="#f9a33f"/><stop offset="0.0201" stop-color="#f9a33f"/><stop offset="0.0309" stop-color="#e6785a"/><stop offset="0.0422" stop-color="#c86774"/><stop offset="0.0905" stop-color="#ba627c"/><stop offset="0.1214" stop-color="#91548a"/><stop offset="0.1317" stop-color="#8c528c"/><stop offset="0.1419" stop-color="#87508d"/><stop offset="0.1574" stop-color="#804e8f"/><stop offset="0.1779" stop-color="#774a91"/><stop offset="0.1985" stop-color="#704693"/><stop offset="0.2330" stop-color="#644197"/><stop offset="0.2792" stop-color="#553c99"/><stop offset="0.3276" stop-color="#48389a"/><stop offset="0.3749" stop-color="#3d349b"/><stop offset="0.4217" stop-color="#333298"/><stop offset="0.4695" stop-color="#2b318d"/><stop offset="0.5158" stop-color="#233182"/><stop offset="0.6788" stop-color="#173172"/><stop offset="0.8655" stop-color="#0c2f61"/><stop offset="0.9787" stop-color="#0b2e5d"/><stop offset="1.0000" stop-color="#0b2e5c"/></linearGradient>
<linearGradient id="g36" gradientUnits="userSpaceOnUse" x1="0" x2="0" y1="97.7" y2="289.4"><stop offset="0.0000" stop-color="#f79542"/><stop offset="0.0156" stop-color="#f79542"/><stop offset="0.0245" stop-color="#c46577"/><stop offset="0.0626" stop-color="#ac5d81"/><stop offset="0.1074" stop-color="#8c528c"/><stop offset="0.1179" stop-color="#88518d"/><stop offset="0.1283" stop-color="#844f8e"/><stop offset="0.1439" stop-color="#7e4d8f"/><stop offset="0.1648" stop-color="#764a91"/><stop offset="0.1857" stop-color="#6f4693"/><stop offset="0.2206" stop-color="#644197"/><stop offset="0.2675" stop-color="#553c99"/><stop offset="0.3166" stop-color="#48389a"/><stop offset="0.3645" stop-color="#3d349b"/><stop offset="0.4120" stop-color="#333298"/><stop offset="0.4605" stop-color="#2b318d"/><stop offset="0.5074" stop-color="#233182"/><stop offset="0.6728" stop-color="#173172"/><stop offset="0.8621" stop-color="#0c2f61"/><stop offset="0.9768" stop-color="#0b2e5d"/><stop offset="1.0000" stop-color="#0b2e5c"/></linearGradient>
<linearGradient id="g37" gradientUnits="userSpaceOnUse" x1="0" x2="0" y1="97.4" y2="289.1"><stop offset="0.0000" stop-color="#f7c943"/><stop offset="0.0026" stop-color="#f89642"/><stop offset="0.0052" stop-color="#ea7c55"/><stop offset="0.0078" stop-color="#dd6f64"/><stop offset="0.0104" stop-color="#d26b6c"/><stop offset="0.0157" stop-color="#c56676"/><stop offset="0.0209" stop-color="#be637a"/><stop offset="0.0313" stop-color="#b6607e"/><stop offset="0.0417" stop-color="#af5e80"/><stop offset="0.0574" stop-color="#a65c84"/><stop offset="0.0783" stop-color="#9b5888"/><stop offset="0.1268" stop-color="#86508d"/><stop offset="0.1753" stop-color="#734892"/><stop offset="0.2223" stop-color="#644197"/><stop offset="0.2692" stop-color="#553c99"/><stop offset="0.3183" stop-color="#48389a"/><stop offset="0.3663" stop-color="#3d349b"/><stop offset="0.4138" stop-color="#333298"/><stop offset="0.4623" stop-color="#2b318d"/><stop offset="0.5093" stop-color="#233182"/><stop offset="0.6747" stop-color="#173172"/><stop offset="0.8641" stop-color="#0c2f61"/><stop offset="0.9789" stop-color="#0b2e5d"/><stop offset="1.0000" stop-color="#0b2e5c"/></linearGradient>
<linearGradient id="g38" gradientUnits="userSpaceOnUse" x1="0" x2="0" y1="98.0" y2="289.1"><stop offset="0.0000" stop-color="#f8c542"/><stop offset="0.0026" stop-color="#f78f44"/><stop offset="0.0052" stop-color="#e6775b"/><stop offset="0.0079" stop-color="#d76d68"/><stop offset="0.0105" stop-color="#cd6970"/><stop offset="0.0157" stop-color="#c26478"/><stop offset="0.0209" stop-color="#bb627b"/><stop offset="0.0314" stop-color="#b4607e"/><stop offset="0.0419" stop-color="#ad5e81"/><stop offset="0.0576" stop-color="#a55b84"/><stop offset="0.0785" stop-color="#9a5788"/><stop offset="0.1241" stop-color="#86508d"/><stop offset="0.1727" stop-color="#734892"/><stop offset="0.2198" stop-color="#644197"/><stop offset="0.2669" stop-color="#553c99"/><stop offset="0.3161" stop-color="#48389a"/><stop offset="0.3643" stop-color="#3d349b"/><stop offset="0.4119" stop-color="#333298"/><stop offset="0.4606" stop-color="#2b318d"/><stop offset="0.5077" stop-color="#233182"/><stop offset="0.6736" stop-color="#173172"/><stop offset="0.8636" stop-color="#0c2f61"/><stop offset="0.9788" stop-color="#0b2e5d"/><stop offset="1.0000" stop-color="#0b2e5c"/></linearGradient>
<linearGradient id="g39" gradientUnits="userSpaceOnUse" x1="0" x2="0" y1="100.3" y2="289.1"><stop offset="0.0000" stop-color="#faa83d"/><stop offset="0.0026" stop-color="#e5765c"/><stop offset="0.0053" stop-color="#cf696f"/><stop offset="0.0079" stop-color="#c36578"/><stop offset="0.0106" stop-color="#bd637b"/><stop offset="0.0159" stop-color="#b6617d"/><stop offset="0.0212" stop-color="#b35f7f"/><stop offset="0.0318" stop-color="#ac5e81"/><stop offset="0.0424" stop-color="#a75c84"/><stop offset="0.0583" stop-color="#9e5987"/><stop offset="0.0795" stop-color="#955589"/><stop offset="0.1134" stop-color="#86508d"/><stop offset="0.1626" stop-color="#734892"/><stop offset="0.2103" stop-color="#644197"/><stop offset="0.2580" stop-color="#553c99"/><stop offset="0.3078" stop-color="#48389a"/><stop offset="0.3566" stop-color="#3d349b"/><stop offset="0.4048" stop-color="#333298"/><stop offset="0.4540" stop-color="#2b318d"/><stop offset="0.5017" stop-color="#233182"/><stop offset="0.6697" stop-color="#173172"/><stop offset="0.8620" stop-color="#0c2f61"/><stop offset="0.9785" stop-color="#0b2e5d"/><stop offset="1.0000" stop-color="#0b2e5c"/></linearGradient>
<linearGradient id="g40" gradientUnits="userSpaceOnUse" x1="0" x2="0" y1="103.1" y2="289.1"><stop offset="0.0000" stop-color="#f79044"/><stop offset="0.0027" stop-color="#cd6970"/><stop offset="0.0054" stop-color="#ba627c"/><stop offset="0.0081" stop-color="#b4607e"/><stop offset="0.0108" stop-color="#b15f80"/><stop offset="0.0161" stop-color="#ad5e81"/><stop offset="0.0215" stop-color="#aa5d82"/><stop offset="0.0323" stop-color="#a45b84"/><stop offset="0.0430" stop-color="#9f5987"/><stop offset="0.0592" stop-color="#975789"/><stop offset="0.0807" stop-color="#8e538b"/><stop offset="0.1000" stop-color="#86508d"/><stop offset="0.1500" stop-color="#734892"/><stop offset="0.1984" stop-color="#644197"/><stop offset="0.2468" stop-color="#553c99"/><stop offset="0.2974" stop-color="#48389a"/><stop offset="0.3469" stop-color="#3d349b"/><stop offset="0.3958" stop-color="#333298"/><stop offset="0.4458" stop-color="#2b318d"/><stop offset="0.4942" stop-color="#233182"/><stop offset="0.6647" stop-color="#173172"/><stop offset="0.8599" stop-color="#0c2f61"/><stop offset="0.9782" stop-color="#0b2e5d"/><stop offset="1.0000" stop-color="#0b2e5c"/></linearGradient>
<linearGradient id="g41" gradientUnits="userSpaceOnUse" x1="0" x2="0" y1="104.9" y2="289.1"><stop offset="0.0000" stop-color="#ee8150"/><stop offset="0.0027" stop-color="#c46577"/><stop offset="0.0054" stop-color="#b4607e"/><stop offset="0.0081" stop-color="#ae5e81"/><stop offset="0.0109" stop-color="#ab5d82"/><stop offset="0.0163" stop-color="#a85c83"/><stop offset="0.0217" stop-color="#a55b84"/><stop offset="0.0326" stop-color="#9f5987"/><stop offset="0.0434" stop-color="#9a5888"/><stop offset="0.0597" stop-color="#93558a"/><stop offset="0.0815" stop-color="#8a528c"/><stop offset="0.0912" stop-color="#86508d"/><stop offset="0.1417" stop-color="#734892"/><stop offset="0.1906" stop-color="#644197"/><stop offset="0.2395" stop-color="#553c99"/><stop offset="0.2905" stop-color="#48389a"/><stop offset="0.3405" stop-color="#3d349b"/><stop offset="0.3899" stop-color="#333298"/><stop offset="0.4404" stop-color="#2b318d"/><stop offset="0.4893" stop-color="#233182"/><stop offset="0.6614" stop-color="#173172"/><stop offset="0.8585" stop-color="#0c2f61"/><stop offset="0.9780" stop-color="#0b2e5d"/><stop offset="1.0000" stop-color="#0b2e5c"/></linearGradient>
<linearGradient id="g42" gradientUnits="userSpaceOnUse" x1="0" x2="0" y1="104.0" y2="289.1"><stop offset="0.0000" stop-color="#ee8150"/><stop offset="0.0027" stop-color="#e27260"/><stop offset="0.0054" stop-color="#d46c6b"/><stop offset="0.0081" stop-color="#c96773"/><stop offset="0.0108" stop-color="#c16479"/><stop offset="0.0162" stop-color="#b5607e"/><stop offset="0.0216" stop-color="#ad5e81"/><stop offset="0.0324" stop-color="#a35b85"/><stop offset="0.0432" stop-color="#9d5887"/><stop offset="0.0594" stop-color="#955689"/><stop offset="0.0811" stop-color="#8c528b"/><stop offset="0.0956" stop-color="#86508d"/><stop offset="0.1459" stop-color="#734892"/><stop offset="0.1945" stop-color="#644197"/><stop offset="0.2432" stop-color="#553c99"/><stop offset="0.2940" stop-color="#48389a"/><stop offset="0.3437" stop-color="#3d349b"/><stop offset="0.3929" stop-color="#333298"/><stop offset="0.4431" stop-color="#2b318d"/><stop offset="0.4918" stop-color="#233182"/><stop offset="0.6631" stop-color="#173172"/><stop offset="0.8592" stop-color="#0c2f61"/><stop offset="0.9781" stop-color="#0b2e5d"/><stop offset="1.0000" stop-color="#0b2e5c"/></linearGradient>
<linearGradient id="g43" gradientUnits="userSpaceOnUse" x1="0" x2="0" y1="103.0" y2="289.1"><stop offset="0.0000" stop-color="#e97a57"/><stop offset="0.0027" stop-color="#dd6f64"/><stop offset="0.0054" stop-color="#d16b6d"/><stop offset="0.0081" stop-color="#c86774"/><stop offset="0.0107" stop-color="#c16479"/><stop offset="0.0161" stop-color="#b6617d"/><stop offset="0.0215" stop-color="#af5e80"/><stop offset="0.0322" stop-color="#a65c84"/><stop offset="0.0430" stop-color="#9f5986"/><stop offset="0.0591" stop-color="#985789"/><stop offset="0.0806" stop-color="#8e538b"/><stop offset="0.1005" stop-color="#86508d"/><stop offset="0.1505" stop-color="#734892"/><stop offset="0.1989" stop-color="#644197"/><stop offset="0.2472" stop-color="#553c99"/><stop offset="0.2978" stop-color="#48389a"/><stop offset="0.3472" stop-color="#3d349b"/><stop offset="0.3961" stop-color="#333298"/><stop offset="0.4461" stop-color="#2b318d"/><stop offset="0.4945" stop-color="#233182"/><stop offset="0.6649" stop-color="#173172"/><stop offset="0.8600" stop-color="#0c2f61"/><stop offset="0.9782" stop-color="#0b2e5d"/><stop offset="1.0000" stop-color="#0b2e5c"/></linearGradient>
<linearGradient id="g44" gradientUnits="userSpaceOnUse" x1="0" x2="0" y1="109.4" y2="289.6"><stop offset="0.0000" stop-color="#d26b6d"/><stop offset="0.0028" stop-color="#b05f80"/><stop offset="0.0056" stop-color="#a55b84"/><stop offset="0.0083" stop-color="#a05a86"/><stop offset="0.0111" stop-color="#9e5987"/><stop offset="0.0167" stop-color="#9b5888"/><stop offset="0.0222" stop-color="#995788"/><stop offset="0.0333" stop-color="#945589"/><stop offset="0.0444" stop-color="#90548b"/><stop offset="0.0611" stop-color="#89518c"/><stop offset="0.0833" stop-color="#814e8e"/><stop offset="0.1199" stop-color="#734892"/><stop offset="0.1699" stop-color="#644197"/><stop offset="0.2198" stop-color="#553c99"/><stop offset="0.2720" stop-color="#48389a"/><stop offset="0.3231" stop-color="#3d349b"/><stop offset="0.3736" stop-color="#333298"/><stop offset="0.4252" stop-color="#2b318d"/><stop offset="0.4752" stop-color="#233182"/><stop offset="0.6511" stop-color="#173172"/><stop offset="0.8526" stop-color="#0c2f61"/><stop offset="0.9747" stop-color="#0b2e5d"/><stop offset="1.0000" stop-color="#0b2e5b"/></linearGradient>
<linearGradient id="g45" gradientUnits="userSpaceOnUse" x1="0" x2="0" y1="110.6" y2="289.4"><stop offset="0.0000" stop-color="#cb6872"/><stop offset="0.0028" stop-color="#af5e80"/><stop offset="0.0056" stop-color="#a35b85"/><stop offset="0.0084" stop-color="#9e5987"/><stop offset="0.0112" stop-color="#9c5888"/><stop offset="0.0168" stop-color="#995788"/><stop offset="0.0224" stop-color="#965689"/><stop offset="0.0335" stop-color="#92548a"/><stop offset="0.0447" stop-color="#8d538b"/><stop offset="0.0615" stop-color="#86508d"/><stop offset="0.0839" stop-color="#7e4d8f"/><stop offset="0.1141" stop-color="#734892"/><stop offset="0.1644" stop-color="#644197"/><stop offset="0.2147" stop-color="#553c99"/><stop offset="0.2673" stop-color="#48389a"/><stop offset="0.3187" stop-color="#3d349b"/><stop offset="0.3696" stop-color="#333298"/><stop offset="0.4216" stop-color="#2b318d"/><stop offset="0.4719" stop-color="#233182"/><stop offset="0.6491" stop-color="#173172"/><stop offset="0.8521" stop-color="#0c2f61"/><stop offset="0.9751" stop-color="#0b2e5d"/><stop offset="1.0000" stop-color="#0b2e5c"/></linearGradient>
<linearGradient id="g46" gradientUnits="userSpaceOnUse" x1="0" x2="0" y1="111.1" y2="289.4"><stop offset="0.0000" stop-color="#c96773"/><stop offset="0.0028" stop-color="#b15f80"/><stop offset="0.0056" stop-color="#a45b84"/><stop offset="0.0084" stop-color="#9e5987"/><stop offset="0.0112" stop-color="#9b5888"/><stop offset="0.0168" stop-color="#985789"/><stop offset="0.0224" stop-color="#955689"/><stop offset="0.0336" stop-color="#91548a"/><stop offset="0.0449" stop-color="#8c528c"/><stop offset="0.0617" stop-color="#85508d"/><stop offset="0.0841" stop-color="#7d4d8f"/><stop offset="0.1116" stop-color="#734892"/><stop offset="0.1620" stop-color="#644197"/><stop offset="0.2125" stop-color="#553c99"/><stop offset="0.2652" stop-color="#48389a"/><stop offset="0.3168" stop-color="#3d349b"/><stop offset="0.3678" stop-color="#333298"/><stop offset="0.4200" stop-color="#2b318d"/><stop offset="0.4704" stop-color="#233182"/><stop offset="0.6482" stop-color="#173172"/><stop offset="0.8517" stop-color="#0c2f61"/><stop offset="0.9750" stop-color="#0b2e5d"/><stop offset="1.0000" stop-color="#0b2e5c"/></linearGradient>
<linearGradient id="g47" gradientUnits="userSpaceOnUse" x1="0" x2="0" y1="114.0" y2="289.1"><stop offset="0.0000" stop-color="#d26b6c"/><stop offset="0.0029" stop-color="#c66676"/><stop offset="0.0057" stop-color="#bb627b"/><stop offset="0.0086" stop-color="#b25f7f"/><stop offset="0.0114" stop-color="#aa5d82"/><stop offset="0.0171" stop-color="#9f5987"/><stop offset="0.0228" stop-color="#975689"/><stop offset="0.0343" stop-color="#8d538b"/><stop offset="0.0457" stop-color="#87508d"/><stop offset="0.0628" stop-color="#804e8f"/><stop offset="0.0856" stop-color="#774a91"/><stop offset="0.0971" stop-color="#734892"/><stop offset="0.1484" stop-color="#644197"/><stop offset="0.1998" stop-color="#553c99"/><stop offset="0.2535" stop-color="#48389a"/><stop offset="0.3060" stop-color="#3d349b"/><stop offset="0.3580" stop-color="#333298"/><stop offset="0.4111" stop-color="#2b318d"/><stop offset="0.4625" stop-color="#233182"/><stop offset="0.6434" stop-color="#173172"/><stop offset="0.8507" stop-color="#0c2f61"/><stop offset="0.9763" stop-color="#0b2e5d"/><stop offset="1.0000" stop-color="#0b2e5c"/></linearGradient>
<linearGradient id="g48" gradientUnits="userSpaceOnUse" x1="0" x2="0" y1="117.4" y2="289.1"><stop offset="0.0000" stop-color="#c36577"/><stop offset="0.0029" stop-color="#a55b84"/><stop offset="0.0058" stop-color="#975689"/><stop offset="0.0087" stop-color="#91548a"/><stop offset="0.0116" stop-color="#8d538b"/><stop offset="0.0175" stop-color="#89518c"/><stop offset="0.0233" stop-color="#87508d"/><stop offset="0.0349" stop-color="#834f8e"/><stop offset="0.0466" stop-color="#7f4d8f"/><stop offset="0.0640" stop-color="#794b91"/><stop offset="0.0873" stop-color="#714793"/><stop offset="0.1316" stop-color="#644197"/><stop offset="0.1840" stop-color="#553c99"/><stop offset="0.2387" stop-color="#48389a"/><stop offset="0.2923" stop-color="#3d349b"/><stop offset="0.3453" stop-color="#333298"/><stop offset="0.3994" stop-color="#2b318d"/><stop offset="0.4518" stop-color="#233182"/><stop offset="0.6364" stop-color="#173172"/><stop offset="0.8477" stop-color="#0c2f61"/><stop offset="0.9758" stop-color="#0b2e5d"/><stop offset="1.0000" stop-color="#0b2e5c"/></linearGradient>
<linearGradient id="g49" gradientUnits="userSpaceOnUse" x1="0" x2="0" y1="113.4" y2="289.1"><stop offset="0.0000" stop-color="#c56676"/><stop offset="0.0028" stop-color="#b05f80"/><stop offset="0.0057" stop-color="#a35b85"/><stop offset="0.0085" stop-color="#9c5887"/><stop offset="0.0114" stop-color="#985788"/><stop offset="0.0171" stop-color="#93558a"/><stop offset="0.0228" stop-color="#90548a"/><stop offset="0.0341" stop-color="#8b528c"/><stop offset="0.0455" stop-color="#87508d"/><stop offset="0.0626" stop-color="#814e8e"/><stop offset="0.0853" stop-color="#794b91"/><stop offset="0.1001" stop-color="#734892"/><stop offset="0.1514" stop-color="#644197"/><stop offset="0.2026" stop-color="#553c99"/><stop offset="0.2560" stop-color="#48389a"/><stop offset="0.3084" stop-color="#3d349b"/><stop offset="0.3602" stop-color="#333298"/><stop offset="0.4131" stop-color="#2b318d"/><stop offset="0.4643" stop-color="#233182"/><stop offset="0.6447" stop-color="#173172"/><stop offset="0.8512" stop-color="#0c2f61"/><stop offset="0.9764" stop-color="#0b2e5d"/><stop offset="1.0000" stop-color="#0b2e5c"/></linearGradient>
<linearGradient id="g50" gradientUnits="userSpaceOnUse" x1="0" x2="0" y1="110.6" y2="289.3"><stop offset="0.0000" stop-color="#c36578"/><stop offset="0.0028" stop-color="#b8617c"/><stop offset="0.0056" stop-color="#b05f80"/><stop offset="0.0084" stop-color="#aa5d82"/><stop offset="0.0112" stop-color="#a55b84"/><stop offset="0.0168" stop-color="#9e5987"/><stop offset="0.0224" stop-color="#995788"/><stop offset="0.0336" stop-color="#93558a"/><stop offset="0.0448" stop-color="#8d538b"/><stop offset="0.0616" stop-color="#86508d"/><stop offset="0.0839" stop-color="#7e4d8f"/><stop offset="0.1142" stop-color="#734892"/><stop offset="0.1645" stop-color="#644197"/><stop offset="0.2149" stop-color="#553c99"/><stop offset="0.2675" stop-color="#48389a"/><stop offset="0.3190" stop-color="#3d349b"/><stop offset="0.3699" stop-color="#333298"/><stop offset="0.4219" stop-color="#2b318d"/><stop offset="0.4723" stop-color="#233182"/><stop offset="0.6497" stop-color="#173172"/><stop offset="0.8528" stop-color="#0c2f61"/><stop offset="0.9759" stop-color="#0b2e5d"/><stop offset="1.0000" stop-color="#0b2e5c"/></linearGradient>
<linearGradient id="g51" gradientUnits="userSpaceOnUse" x1="0" x2="0" y1="114.6" y2="289.1"><stop offset="0.0000" stop-color="#bc627b"/><stop offset="0.0029" stop-color="#ac5e81"/><stop offset="0.0057" stop-color="#a25a85"/><stop offset="0.0086" stop-color="#9b5888"/><stop offset="0.0115" stop-color="#975689"/><stop offset="0.0172" stop-color="#91548a"/><stop offset="0.0229" stop-color="#8e538b"/><stop offset="0.0344" stop-color="#89518c"/><stop offset="0.0458" stop-color="#844f8d"/><stop offset="0.0630" stop-color="#7e4d8f"/><stop offset="0.0859" stop-color="#764991"/><stop offset="0.0940" stop-color="#734892"/><stop offset="0.1455" stop-color="#644197"/><stop offset="0.1971" stop-color="#553c99"/><stop offset="0.2509" stop-color="#48389a"/><stop offset="0.3036" stop-color="#3d349b"/><stop offset="0.3558" stop-color="#333298"/><stop offset="0.4091" stop-color="#2b318d"/><stop offset="0.4606" stop-color="#233182"/><stop offset="0.6422" stop-color="#173172"/><stop offset="0.8502" stop-color="#0c2f61"/><stop offset="0.9762" stop-color="#0b2e5d"/><stop offset="1.0000" stop-color="#0b2e5c"/></linearGradient>
<linearGradient id="g52" gradientUnits="userSpaceOnUse" x1="0" x2="0" y1="115.0" y2="289.1"><stop offset="0.0000" stop-color="#b6617d"/><stop offset="0.0029" stop-color="#b05f80"/><stop offset="0.0057" stop-color="#aa5d82"/><stop offset="0.0086" stop-color="#a55b84"/><stop offset="0.0115" stop-color="#a15a86"/><stop offset="0.0172" stop-color="#9a5788"/><stop offset="0.0230" stop-color="#945589"/><stop offset="0.0345" stop-color="#8c528c"/><stop offset="0.0460" stop-color="#85508d"/><stop offset="0.0632" stop-color="#7e4d8f"/><stop offset="0.0862" stop-color="#754992"/><stop offset="0.0919" stop-color="#734892"/><stop offset="0.1436" stop-color="#644197"/><stop offset="0.1953" stop-color="#553c99"/><stop offset="0.2493" stop-color="#48389a"/><stop offset="0.3021" stop-color="#3d349b"/><stop offset="0.3544" stop-color="#333298"/><stop offset="0.4078" stop-color="#2b318d"/><stop offset="0.4595" stop-color="#233182"/><stop offset="0.6416" stop-color="#173172"/><stop offset="0.8501" stop-color="#0c2f61"/><stop offset="0.9765" stop-color="#0b2e5d"/><stop offset="1.0000" stop-color="#0b2e5c"/></linearGradient>
<linearGradient id="g53" gradientUnits="userSpaceOnUse" x1="0" x2="0" y1="117.4" y2="289.1"><stop offset="0.0000" stop-color="#ba627c"/><stop offset="0.0029" stop-color="#a55b84"/><stop offset="0.0058" stop-color="#995788"/><stop offset="0.0087" stop-color="#93558a"/><stop offset="0.0116" stop-color="#8f538b"/><stop offset="0.0175" stop-color="#8a528c"/><stop offset="0.0233" stop-color="#87508d"/><stop offset="0.0349" stop-color="#834f8e"/><stop offset="0.0466" stop-color="#7f4d8f"/><stop offset="0.0640" stop-color="#794b91"/><stop offset="0.0873" stop-color="#714793"/><stop offset="0.1316" stop-color="#644197"/><stop offset="0.1840" stop-color="#553c99"/><stop offset="0.2387" stop-color="#48389a"/><stop offset="0.2923" stop-color="#3d349b"/><stop offset="0.3453" stop-color="#333298"/><stop offset="0.3994" stop-color="#2b318d"/><stop offset="0.4518" stop-color="#233182"/><stop offset="0.6364" stop-color="#173172"/><stop offset="0.8477" stop-color="#0c2f61"/><stop offset="0.9758" stop-color="#0b2e5d"/><stop offset="1.0000" stop-color="#0b2e5c"/></linearGradient>
<linearGradient id="g54" gradientUnits="userSpaceOnUse" x1="0" x2="0" y1="111.7" y2="289.1"><stop offset="0.0000" stop-color="#b4607e"/><stop offset="0.0028" stop-color="#a85c83"/><stop offset="0.0056" stop-color="#a15a86"/><stop offset="0.0085" stop-color="#9d5987"/><stop offset="0.0113" stop-color="#9a5888"/><stop offset="0.0169" stop-color="#975689"/><stop offset="0.0225" stop-color="#94558a"/><stop offset="0.0338" stop-color="#8f538b"/><stop offset="0.0451" stop-color="#8b528c"/><stop offset="0.0620" stop-color="#844f8d"/><stop offset="0.0845" stop-color="#7c4c90"/><stop offset="0.1088" stop-color="#734892"/><stop offset="0.1595" stop-color="#644197"/><stop offset="0.2102" stop-color="#553c99"/><stop offset="0.2632" stop-color="#48389a"/><stop offset="0.3150" stop-color="#3d349b"/><stop offset="0.3663" stop-color="#333298"/><stop offset="0.4187" stop-color="#2b318d"/><stop offset="0.4694" stop-color="#233182"/><stop offset="0.6481" stop-color="#173172"/><stop offset="0.8526" stop-color="#0c2f61"/><stop offset="0.9766" stop-color="#0b2e5d"/><stop offset="1.0000" stop-color="#0b2e5c"/></linearGradient>
<linearGradient id="g55" gradientUnits="userSpaceOnUse" x1="0" x2="0" y1="112.9" y2="289.1"><stop offset="0.0000" stop-color="#b6617d"/><stop offset="0.0028" stop-color="#a55b84"/><stop offset="0.0057" stop-color="#9d5987"/><stop offset="0.0085" stop-color="#995788"/><stop offset="0.0113" stop-color="#975689"/><stop offset="0.0170" stop-color="#93558a"/><stop offset="0.0227" stop-color="#91548a"/><stop offset="0.0340" stop-color="#8c528b"/><stop offset="0.0454" stop-color="#88518d"/><stop offset="0.0624" stop-color="#824e8e"/><stop offset="0.0851" stop-color="#7a4b90"/><stop offset="0.1027" stop-color="#734892"/><stop offset="0.1538" stop-color="#644197"/><stop offset="0.2048" stop-color="#553c99"/><stop offset="0.2582" stop-color="#48389a"/><stop offset="0.3104" stop-color="#3d349b"/><stop offset="0.3620" stop-color="#333298"/><stop offset="0.4148" stop-color="#2b318d"/><stop offset="0.4658" stop-color="#233182"/><stop offset="0.6457" stop-color="#173172"/><stop offset="0.8516" stop-color="#0c2f61"/><stop offset="0.9765" stop-color="#0b2e5d"/><stop offset="1.0000" stop-color="#0b2e5c"/></linearGradient>
<linearGradient id="g56" gradientUnits="userSpaceOnUse" x1="0" x2="0" y1="103.0" y2="289.1"><stop offset="0.0000" stop-color="#bc627b"/><stop offset="0.0027" stop-color="#bb627b"/><stop offset="0.0054" stop-color="#ba627c"/><stop offset="0.0081" stop-color="#b9627c"/><stop offset="0.0107" stop-color="#b8617d"/><stop offset="0.0161" stop-color="#b5607e"/><stop offset="0.0215" stop-color="#b25f7f"/><stop offset="0.0322" stop-color="#ac5d82"/><stop offset="0.0430" stop-color="#a55b84"/><stop offset="0.0591" stop-color="#9b5888"/><stop offset="0.0806" stop-color="#91548a"/><stop offset="0.1005" stop-color="#87508d"/><stop offset="0.1504" stop-color="#744892"/><stop offset="0.1988" stop-color="#644197"/><stop offset="0.2471" stop-color="#553c99"/><stop offset="0.2976" stop-color="#48389a"/><stop offset="0.3470" stop-color="#3d349b"/><stop offset="0.3959" stop-color="#333298"/><stop offset="0.4459" stop-color="#2b318d"/><stop offset="0.4942" stop-color="#233182"/><stop offset="0.6645" stop-color="#173172"/><stop offset="0.8595" stop-color="#0c2f61"/><stop offset="0.9777" stop-color="#0b2e5d"/><stop offset="1.0000" stop-color="#0b2e5c"/></linearGradient>
<linearGradient id="g57" gradientUnits="userSpaceOnUse" x1="0" x2="0" y1="104.0" y2="289.4"><stop offset="0.0000" stop-color="#c06479"/><stop offset="0.0027" stop-color="#bf637a"/><stop offset="0.0054" stop-color="#bd637b"/><stop offset="0.0081" stop-color="#bb627b"/><stop offset="0.0108" stop-color="#ba627c"/><stop offset="0.0162" stop-color="#b6617d"/><stop offset="0.0216" stop-color="#b25f7f"/><stop offset="0.0324" stop-color="#ab5d82"/><stop offset="0.0431" stop-color="#a35b85"/><stop offset="0.0593" stop-color="#9a5788"/><stop offset="0.0809" stop-color="#8f538b"/><stop offset="0.0954" stop-color="#88518d"/><stop offset="0.1456" stop-color="#744892"/><stop offset="0.1941" stop-color="#644197"/><stop offset="0.2427" stop-color="#553c99"/><stop offset="0.2933" stop-color="#48389a"/><stop offset="0.3429" stop-color="#3d349b"/><stop offset="0.3920" stop-color="#333298"/><stop offset="0.4422" stop-color="#2b318d"/><stop offset="0.4907" stop-color="#233182"/><stop offset="0.6616" stop-color="#173172"/><stop offset="0.8574" stop-color="#0c2f61"/><stop offset="0.9760" stop-color="#0b2e5d"/><stop offset="1.0000" stop-color="#0b2e5c"/></linearGradient>
<linearGradient id="g58" gradientUnits="userSpaceOnUse" x1="0" x2="0" y1="96.0" y2="191.0"><stop offset="0.0000" stop-color="#d66d69"/><stop offset="0.0053" stop-color="#d56c6a"/><stop offset="0.0105" stop-color="#d46c6b"/><stop offset="0.0158" stop-color="#d26b6c"/><stop offset="0.0210" stop-color="#d16a6d"/><stop offset="0.0316" stop-color="#cd6970"/><stop offset="0.0421" stop-color="#ca6872"/><stop offset="0.0631" stop-color="#c36578"/><stop offset="0.0842" stop-color="#bb627c"/><stop offset="0.1157" stop-color="#af5e80"/><stop offset="0.1578" stop-color="#a25a86"/><stop offset="0.1683" stop-color="#9e5987"/><stop offset="0.2704" stop-color="#86508d"/><stop offset="0.3682" stop-color="#734892"/><stop offset="0.4629" stop-color="#644197"/><stop offset="0.5576" stop-color="#553c99"/><stop offset="0.6565" stop-color="#48389a"/><stop offset="0.7533" stop-color="#3d349b"/><stop offset="0.8490" stop-color="#333298"/><stop offset="0.9469" stop-color="#2b318d"/><stop offset="1.0000" stop-color="#263187"/></linearGradient>
<linearGradient id="g59" gradientUnits="userSpaceOnUse" x1="0" x2="0" y1="97.0" y2="289.6"><stop offset="0.0000" stop-color="#d66d69"/><stop offset="0.0026" stop-color="#d56c6a"/><stop offset="0.0052" stop-color="#d36b6b"/><stop offset="0.0078" stop-color="#d16b6d"/><stop offset="0.0104" stop-color="#d06a6e"/><stop offset="0.0156" stop-color="#cc6971"/><stop offset="0.0208" stop-color="#c86773"/><stop offset="0.0312" stop-color="#c16479"/><stop offset="0.0415" stop-color="#b8617d"/><stop offset="0.0571" stop-color="#ad5e81"/><stop offset="0.0779" stop-color="#9f5987"/><stop offset="0.1283" stop-color="#87508d"/><stop offset="0.1766" stop-color="#734892"/><stop offset="0.2233" stop-color="#644197"/><stop offset="0.2701" stop-color="#553c99"/><stop offset="0.3189" stop-color="#48389a"/><stop offset="0.3667" stop-color="#3d349b"/><stop offset="0.4139" stop-color="#333298"/><stop offset="0.4622" stop-color="#2b318d"/><stop offset="0.5090" stop-color="#233182"/><stop offset="0.6736" stop-color="#173172"/><stop offset="0.8621" stop-color="#0c2f61"/><stop offset="0.9764" stop-color="#0b2e5d"/><stop offset="1.0000" stop-color="#0b2e5b"/></linearGradient>
<linearGradient id="cb" x1="0" x2="0" y1="0" y2="1"><stop offset="0.0000" stop-color="#e7fa5a"/><stop offset="0.0909" stop-color="#f6d346"/><stop offset="0.1818" stop-color="#fbad3c"/><stop offset="0.2727" stop-color="#f68b45"/><stop offset="0.3636" stop-color="#e17161"/><stop offset="0.4545" stop-color="#c16479"/><stop offset="0.5455" stop-color="#9e5987"/><stop offset="0.6364" stop-color="#7e4d8f"/><stop offset="0.7273" stop-color="#5d3e99"/><stop offset="0.8182" stop-color="#35329b"/><stop offset="0.9091" stop-color="#0d3064"/><stop offset="1.0000" stop-color="#032333"/></linearGradient></defs>
<g><path d="M211.95 101.05V92.25A2.45 2.45 0 0 1 216.85 92.25V101.05Z" fill="#fbb13d"/>
<path d="M211.95 101.05A2.45 2.45 0 0 1 216.85 101.05V286.55A2.45 2.45 0 0 1 211.95 286.55Z" fill="url(#g0)"/>
<circle cx="214.4" cy="290.90" r="2.65" fill="#0b2d5a"/>
<circle cx="214.4" cy="300.84" r="2.65" fill="#0a2c54"/>
<circle cx="214.4" cy="310.78" r="2.65" fill="#092a4f"/>
<circle cx="214.4" cy="320.72" r="2.65" fill="#08294a"/>
<circle cx="214.4" cy="330.66" r="2.65" fill="#072847"/>
<circle cx="214.4" cy="340.60" r="2.65" fill="#062744"/>
<circle cx="214.4" cy="350.54" r="2.65" fill="#062741"/>
<circle cx="214.4" cy="360.48" r="2.65" fill="#06263f"/>
<circle cx="214.4" cy="370.42" r="2.65" fill="#05263e"/>
<circle cx="214.4" cy="380.36" r="2.65" fill="#05253c"/>
<circle cx="214.4" cy="390.30" r="2.65" fill="#05253b"/>
<circle cx="214.4" cy="400.24" r="2.65" fill="#04253a"/>
<circle cx="214.4" cy="410.18" r="2.65" fill="#042539"/>
<circle cx="214.4" cy="420.12" r="2.65" fill="#042438"/>
<circle cx="214.4" cy="430.06" r="2.65" fill="#042438"/>
<circle cx="214.4" cy="440.00" r="2.65" fill="#042437"/>
<circle cx="214.4" cy="449.94" r="2.65" fill="#042437"/>
<circle cx="214.4" cy="459.88" r="2.65" fill="#042437"/>
<circle cx="214.4" cy="469.82" r="2.65" fill="#042436"/>
<circle cx="214.4" cy="479.76" r="2.65" fill="#042436"/>
<circle cx="214.4" cy="489.70" r="2.65" fill="#042436"/>
<path d="M225.75 105.25V92.45A2.65 2.65 0 0 1 231.05 92.45V105.25Z" fill="#f9a33f"/>
<path d="M225.75 105.25A2.65 2.65 0 0 1 231.05 105.25V286.35A2.65 2.65 0 0 1 225.75 286.35Z" fill="url(#g1)"/>
<circle cx="228.4" cy="290.90" r="2.65" fill="#0b2d5a"/>
<circle cx="228.4" cy="300.84" r="2.65" fill="#0a2c54"/>
<circle cx="228.4" cy="310.78" r="2.65" fill="#092a4f"/>
<circle cx="228.4" cy="320.72" r="2.65" fill="#08294a"/>
<circle cx="228.4" cy="330.66" r="2.65" fill="#072847"/>
<circle cx="228.4" cy="340.60" r="2.65" fill="#062744"/>
<circle cx="228.4" cy="350.54" r="2.65" fill="#062741"/>
<circle cx="228.4" cy="360.48" r="2.65" fill="#06263f"/>
<circle cx="228.4" cy="370.42" r="2.65" fill="#05263e"/>
<circle cx="228.4" cy="380.36" r="2.65" fill="#05253c"/>
<circle cx="228.4" cy="390.30" r="2.65" fill="#05253b"/>
<circle cx="228.4" cy="400.24" r="2.65" fill="#04253a"/>
<circle cx="228.4" cy="410.18" r="2.65" fill="#042539"/>
<circle cx="228.4" cy="420.12" r="2.65" fill="#042438"/>
<circle cx="228.4" cy="430.06" r="2.65" fill="#042438"/>
<circle cx="228.4" cy="440.00" r="2.65" fill="#042437"/>
<circle cx="228.4" cy="449.94" r="2.65" fill="#042437"/>
<circle cx="228.4" cy="459.88" r="2.65" fill="#042437"/>
<circle cx="228.4" cy="469.82" r="2.65" fill="#042436"/>
<circle cx="228.4" cy="479.76" r="2.65" fill="#042436"/>
<circle cx="228.4" cy="489.70" r="2.65" fill="#042436"/>
<path d="M239.60 106.40V92.50A2.70 2.70 0 0 1 245.00 92.50V106.40Z" fill="#f48947"/>
<path d="M239.60 106.40A2.70 2.70 0 0 1 245.00 106.40V286.30A2.70 2.70 0 0 1 239.60 286.30Z" fill="url(#g2)"/>
<circle cx="242.3" cy="290.90" r="2.65" fill="#0b2d5a"/>
<circle cx="242.3" cy="300.84" r="2.65" fill="#0a2c54"/>
<circle cx="242.3" cy="310.78" r="2.65" fill="#092a4f"/>
<circle cx="242.3" cy="320.72" r="2.65" fill="#08294a"/>
<circle cx="242.3" cy="330.66" r="2.65" fill="#072847"/>
<circle cx="242.3" cy="340.60" r="2.65" fill="#062744"/>
<circle cx="242.3" cy="350.54" r="2.65" fill="#062741"/>
<circle cx="242.3" cy="360.48" r="2.65" fill="#06263f"/>
<circle cx="242.3" cy="370.42" r="2.65" fill="#05263e"/>
<circle cx="242.3" cy="380.36" r="2.65" fill="#05253c"/>
<circle cx="242.3" cy="390.30" r="2.65" fill="#05253b"/>
<circle cx="242.3" cy="400.24" r="2.65" fill="#04253a"/>
<circle cx="242.3" cy="410.18" r="2.65" fill="#042539"/>
<circle cx="242.3" cy="420.12" r="2.65" fill="#042438"/>
<circle cx="242.3" cy="430.06" r="2.65" fill="#042438"/>
<circle cx="242.3" cy="440.00" r="2.65" fill="#042437"/>
<circle cx="242.3" cy="449.94" r="2.65" fill="#042437"/>
<circle cx="242.3" cy="459.88" r="2.65" fill="#042437"/>
<circle cx="242.3" cy="469.82" r="2.65" fill="#042436"/>
<circle cx="242.3" cy="479.76" r="2.65" fill="#042436"/>
<circle cx="242.3" cy="489.70" r="2.65" fill="#042436"/>
<path d="M254.55 106.15V92.85A3.05 3.05 0 0 1 260.65 92.85V106.15Z" fill="#f2864b"/>
<path d="M254.55 106.15A3.05 3.05 0 0 1 260.65 106.15V285.95A3.05 3.05 0 0 1 254.55 285.95Z" fill="url(#g3)"/>
<circle cx="257.6" cy="290.90" r="2.65" fill="#0b2d5a"/>
<circle cx="257.6" cy="300.84" r="2.65" fill="#0a2c54"/>
<circle cx="257.6" cy="310.78" r="2.65" fill="#092a4f"/>
<circle cx="257.6" cy="320.72" r="2.65" fill="#08294a"/>
<circle cx="257.6" cy="330.66" r="2.65" fill="#072847"/>
<circle cx="257.6" cy="340.60" r="2.65" fill="#062744"/>
<circle cx="257.6" cy="350.54" r="2.65" fill="#062741"/>
<circle cx="257.6" cy="360.48" r="2.65" fill="#06263f"/>
<circle cx="257.6" cy="370.42" r="2.65" fill="#05263e"/>
<circle cx="257.6" cy="380.36" r="2.65" fill="#05253c"/>
<circle cx="257.6" cy="390.30" r="2.65" fill="#05253b"/>
<circle cx="257.6" cy="400.24" r="2.65" fill="#04253a"/>
<circle cx="257.6" cy="410.18" r="2.65" fill="#042539"/>
<circle cx="257.6" cy="420.12" r="2.65" fill="#042438"/>
<circle cx="257.6" cy="430.06" r="2.65" fill="#042438"/>
<circle cx="257.6" cy="440.00" r="2.65" fill="#042437"/>
<circle cx="257.6" cy="449.94" r="2.65" fill="#042437"/>
<circle cx="257.6" cy="459.88" r="2.65" fill="#042437"/>
<circle cx="257.6" cy="469.82" r="2.65" fill="#042436"/>
<circle cx="257.6" cy="479.76" r="2.65" fill="#042436"/>
<circle cx="257.6" cy="489.70" r="2.65" fill="#042436"/>
<path d="M268.75 104.85V92.65A2.85 2.85 0 0 1 274.45 92.65V104.85Z" fill="#f0844d"/>
<path d="M268.75 117.85V104.85A2.85 2.85 0 0 1 274.45 104.85V117.85Z" fill="url(#g4)"/>
<path d="M268.75 117.85A2.85 2.85 0 0 1 274.45 117.85V286.15A2.85 2.85 0 0 1 268.75 286.15Z" fill="url(#g5)"/>
<circle cx="271.6" cy="290.90" r="2.65" fill="#0b2d5a"/>
<circle cx="271.6" cy="300.84" r="2.65" fill="#0a2c54"/>
<circle cx="271.6" cy="310.78" r="2.65" fill="#092a4f"/>
<circle cx="271.6" cy="320.72" r="2.65" fill="#08294a"/>
<circle cx="271.6" cy="330.66" r="2.65" fill="#072847"/>
<circle cx="271.6" cy="340.60" r="2.65" fill="#062744"/>
<circle cx="271.6" cy="350.54" r="2.65" fill="#062741"/>
<circle cx="271.6" cy="360.48" r="2.65" fill="#06263f"/>
<circle cx="271.6" cy="370.42" r="2.65" fill="#05263e"/>
<circle cx="271.6" cy="380.36" r="2.65" fill="#05253c"/>
<circle cx="271.6" cy="390.30" r="2.65" fill="#05253b"/>
<circle cx="271.6" cy="400.24" r="2.65" fill="#04253a"/>
<circle cx="271.6" cy="410.18" r="2.65" fill="#042539"/>
<circle cx="271.6" cy="420.12" r="2.65" fill="#042438"/>
<circle cx="271.6" cy="430.06" r="2.65" fill="#042438"/>
<circle cx="271.6" cy="440.00" r="2.65" fill="#042437"/>
<circle cx="271.6" cy="449.94" r="2.65" fill="#042437"/>
<circle cx="271.6" cy="459.88" r="2.65" fill="#042437"/>
<circle cx="271.6" cy="469.82" r="2.65" fill="#042436"/>
<circle cx="271.6" cy="479.76" r="2.65" fill="#042436"/>
<circle cx="271.6" cy="489.70" r="2.65" fill="#042436"/>
<path d="M282.80 107.70V92.60A2.80 2.80 0 0 1 288.40 92.60V107.70Z" fill="#e77958"/>
<path d="M282.80 107.70A2.80 2.80 0 0 1 288.40 107.70V286.20A2.80 2.80 0 0 1 282.80 286.20Z" fill="url(#g6)"/>
<circle cx="285.6" cy="290.90" r="2.65" fill="#0b2d5a"/>
<circle cx="285.6" cy="300.84" r="2.65" fill="#0a2c54"/>
<circle cx="285.6" cy="310.78" r="2.65" fill="#092a4f"/>
<circle cx="285.6" cy="320.72" r="2.65" fill="#08294a"/>
<circle cx="285.6" cy="330.66" r="2.65" fill="#072847"/>
<circle cx="285.6" cy="340.60" r="2.65" fill="#062744"/>
<circle cx="285.6" cy="350.54" r="2.65" fill="#062741"/>
<circle cx="285.6" cy="360.48" r="2.65" fill="#06263f"/>
<circle cx="285.6" cy="370.42" r="2.65" fill="#05263e"/>
<circle cx="285.6" cy="380.36" r="2.65" fill="#05253c"/>
<circle cx="285.6" cy="390.30" r="2.65" fill="#05253b"/>
<circle cx="285.6" cy="400.24" r="2.65" fill="#04253a"/>
<circle cx="285.6" cy="410.18" r="2.65" fill="#042539"/>
<circle cx="285.6" cy="420.12" r="2.65" fill="#042438"/>
<circle cx="285.6" cy="430.06" r="2.65" fill="#042438"/>
<circle cx="285.6" cy="440.00" r="2.65" fill="#042437"/>
<circle cx="285.6" cy="449.94" r="2.65" fill="#042437"/>
<circle cx="285.6" cy="459.88" r="2.65" fill="#042437"/>
<circle cx="285.6" cy="469.82" r="2.65" fill="#042436"/>
<circle cx="285.6" cy="479.76" r="2.65" fill="#042436"/>
<circle cx="285.6" cy="489.70" r="2.65" fill="#042436"/>
<path d="M296.55 107.15V92.65A2.85 2.85 0 0 1 302.25 92.65V107.15Z" fill="#de7063"/>
<path d="M296.55 107.15A2.85 2.85 0 0 1 302.25 107.15V286.15A2.85 2.85 0 0 1 296.55 286.15Z" fill="url(#g7)"/>
<circle cx="299.4" cy="290.90" r="2.65" fill="#0b2d5a"/>
<circle cx="299.4" cy="300.84" r="2.65" fill="#0a2c54"/>
<circle cx="299.4" cy="310.78" r="2.65" fill="#092a4f"/>
<circle cx="299.4" cy="320.72" r="2.65" fill="#08294a"/>
<circle cx="299.4" cy="330.66" r="2.65" fill="#072847"/>
<circle cx="299.4" cy="340.60" r="2.65" fill="#062744"/>
<circle cx="299.4" cy="350.54" r="2.65" fill="#062741"/>
<circle cx="299.4" cy="360.48" r="2.65" fill="#06263f"/>
<circle cx="299.4" cy="370.42" r="2.65" fill="#05263e"/>
<circle cx="299.4" cy="380.36" r="2.65" fill="#05253c"/>
<circle cx="299.4" cy="390.30" r="2.65" fill="#05253b"/>
<circle cx="299.4" cy="400.24" r="2.65" fill="#04253a"/>
<circle cx="299.4" cy="410.18" r="2.65" fill="#042539"/>
<circle cx="299.4" cy="420.12" r="2.65" fill="#042438"/>
<circle cx="299.4" cy="430.06" r="2.65" fill="#042438"/>
<circle cx="299.4" cy="440.00" r="2.65" fill="#042437"/>
<circle cx="299.4" cy="449.94" r="2.65" fill="#042437"/>
<circle cx="299.4" cy="459.88" r="2.65" fill="#042437"/>
<circle cx="299.4" cy="469.82" r="2.65" fill="#042436"/>
<circle cx="299.4" cy="479.76" r="2.65" fill="#042436"/>
<circle cx="299.4" cy="489.70" r="2.65" fill="#042436"/>
<path d="M311.85 109.65V92.85A3.05 3.05 0 0 1 317.95 92.85V109.65Z" fill="#c36577"/>
<path d="M311.85 109.65A3.05 3.05 0 0 1 317.95 109.65V285.95A3.05 3.05 0 0 1 311.85 285.95Z" fill="url(#g8)"/>
<circle cx="314.9" cy="290.90" r="2.65" fill="#0b2d5a"/>
<circle cx="314.9" cy="300.84" r="2.65" fill="#0a2c54"/>
<circle cx="314.9" cy="310.78" r="2.65" fill="#092a4f"/>
<circle cx="314.9" cy="320.72" r="2.65" fill="#08294a"/>
<circle cx="314.9" cy="330.66" r="2.65" fill="#072847"/>
<circle cx="314.9" cy="340.60" r="2.65" fill="#062744"/>
<circle cx="314.9" cy="350.54" r="2.65" fill="#062741"/>
<circle cx="314.9" cy="360.48" r="2.65" fill="#06263f"/>
<circle cx="314.9" cy="370.42" r="2.65" fill="#05263e"/>
<circle cx="314.9" cy="380.36" r="2.65" fill="#05253c"/>
<circle cx="314.9" cy="390.30" r="2.65" fill="#05253b"/>
<circle cx="314.9" cy="400.24" r="2.65" fill="#04253a"/>
<circle cx="314.9" cy="410.18" r="2.65" fill="#042539"/>
<circle cx="314.9" cy="420.12" r="2.65" fill="#042438"/>
<circle cx="314.9" cy="430.06" r="2.65" fill="#042438"/>
<circle cx="314.9" cy="440.00" r="2.65" fill="#042437"/>
<circle cx="314.9" cy="449.94" r="2.65" fill="#042437"/>
<circle cx="314.9" cy="459.88" r="2.65" fill="#042437"/>
<circle cx="314.9" cy="469.82" r="2.65" fill="#042436"/>
<circle cx="314.9" cy="479.76" r="2.65" fill="#042436"/>
<circle cx="314.9" cy="489.70" r="2.65" fill="#042436"/>
<path d="M326.05 108.85V92.65A2.85 2.85 0 0 1 331.75 92.65V108.85Z" fill="#c36577"/>
<path d="M326.05 108.85A2.85 2.85 0 0 1 331.75 108.85V286.15A2.85 2.85 0 0 1 326.05 286.15Z" fill="url(#g9)"/>
<circle cx="328.9" cy="290.90" r="2.65" fill="#0b2d5a"/>
<circle cx="328.9" cy="300.84" r="2.65" fill="#0a2c54"/>
<circle cx="328.9" cy="310.78" r="2.65" fill="#092a4f"/>
<circle cx="328.9" cy="320.72" r="2.65" fill="#08294a"/>
<circle cx="328.9" cy="330.66" r="2.65" fill="#072847"/>
<circle cx="328.9" cy="340.60" r="2.65" fill="#062744"/>
<circle cx="328.9" cy="350.54" r="2.65" fill="#062741"/>
<circle cx="328.9" cy="360.48" r="2.65" fill="#06263f"/>
<circle cx="328.9" cy="370.42" r="2.65" fill="#05263e"/>
<circle cx="328.9" cy="380.36" r="2.65" fill="#05253c"/>
<circle cx="328.9" cy="390.30" r="2.65" fill="#05253b"/>
<circle cx="328.9" cy="400.24" r="2.65" fill="#04253a"/>
<circle cx="328.9" cy="410.18" r="2.65" fill="#042539"/>
<circle cx="328.9" cy="420.12" r="2.65" fill="#042438"/>
<circle cx="328.9" cy="430.06" r="2.65" fill="#042438"/>
<circle cx="328.9" cy="440.00" r="2.65" fill="#042437"/>
<circle cx="328.9" cy="449.94" r="2.65" fill="#042437"/>
<circle cx="328.9" cy="459.88" r="2.65" fill="#042437"/>
<circle cx="328.9" cy="469.82" r="2.65" fill="#042436"/>
<circle cx="328.9" cy="479.76" r="2.65" fill="#042436"/>
<circle cx="328.9" cy="489.70" r="2.65" fill="#042436"/>
<path d="M340.05 112.25V92.65A2.85 2.85 0 0 1 345.75 92.65V112.25Z" fill="#c76675"/>
<path d="M340.05 112.25A2.85 2.85 0 0 1 345.75 112.25V286.15A2.85 2.85 0 0 1 340.05 286.15Z" fill="url(#g10)"/>
<circle cx="342.9" cy="290.90" r="2.65" fill="#0b2d5a"/>
<circle cx="342.9" cy="300.84" r="2.65" fill="#0a2c54"/>
<circle cx="342.9" cy="310.78" r="2.65" fill="#092a4f"/>
<circle cx="342.9" cy="320.72" r="2.65" fill="#08294a"/>
<circle cx="342.9" cy="330.66" r="2.65" fill="#072847"/>
<circle cx="342.9" cy="340.60" r="2.65" fill="#062744"/>
<circle cx="342.9" cy="350.54" r="2.65" fill="#062741"/>
<circle cx="342.9" cy="360.48" r="2.65" fill="#06263f"/>
<circle cx="342.9" cy="370.42" r="2.65" fill="#05263e"/>
<circle cx="342.9" cy="380.36" r="2.65" fill="#05253c"/>
<circle cx="342.9" cy="390.30" r="2.65" fill="#05253b"/>
<circle cx="342.9" cy="400.24" r="2.65" fill="#04253a"/>
<circle cx="342.9" cy="410.18" r="2.65" fill="#042539"/>
<circle cx="342.9" cy="420.12" r="2.65" fill="#042438"/>
<circle cx="342.9" cy="430.06" r="2.65" fill="#042438"/>
<circle cx="342.9" cy="440.00" r="2.65" fill="#042437"/>
<circle cx="342.9" cy="449.94" r="2.65" fill="#042437"/>
<circle cx="342.9" cy="459.88" r="2.65" fill="#042437"/>
<circle cx="342.9" cy="469.82" r="2.65" fill="#042436"/>
<circle cx="342.9" cy="479.76" r="2.65" fill="#042436"/>
<circle cx="342.9" cy="489.70" r="2.65" fill="#042436"/>
<path d="M354.05 113.85V92.65A2.85 2.85 0 0 1 359.75 92.65V113.85Z" fill="#c26578"/>
<path d="M354.05 113.85A2.85 2.85 0 0 1 359.75 113.85V286.15A2.85 2.85 0 0 1 354.05 286.15Z" fill="url(#g11)"/>
<circle cx="356.9" cy="290.90" r="2.65" fill="#0b2d5a"/>
<circle cx="356.9" cy="300.84" r="2.65" fill="#0a2c54"/>
<circle cx="356.9" cy="310.78" r="2.65" fill="#092a4f"/>
<circle cx="356.9" cy="320.72" r="2.65" fill="#08294a"/>
<circle cx="356.9" cy="330.66" r="2.65" fill="#072847"/>
<circle cx="356.9" cy="340.60" r="2.65" fill="#062744"/>
<circle cx="356.9" cy="350.54" r="2.65" fill="#062741"/>
<circle cx="356.9" cy="360.48" r="2.65" fill="#06263f"/>
<circle cx="356.9" cy="370.42" r="2.65" fill="#05263e"/>
<circle cx="356.9" cy="380.36" r="2.65" fill="#05253c"/>
<circle cx="356.9" cy="390.30" r="2.65" fill="#05253b"/>
<circle cx="356.9" cy="400.24" r="2.65" fill="#04253a"/>
<circle cx="356.9" cy="410.18" r="2.65" fill="#042539"/>
<circle cx="356.9" cy="420.12" r="2.65" fill="#042438"/>
<circle cx="356.9" cy="430.06" r="2.65" fill="#042438"/>
<circle cx="356.9" cy="439.88" r="2.65" fill="#042437"/>
<circle cx="356.9" cy="449.70" r="2.65" fill="#042437"/>
<circle cx="356.9" cy="459.52" r="2.65" fill="#042437"/>
<circle cx="356.9" cy="469.34" r="2.65" fill="#042436"/>
<circle cx="356.9" cy="479.16" r="2.65" fill="#042436"/>
<path d="M369.20 106.40V92.70A2.90 2.90 0 0 1 375.00 92.70V106.40Z" fill="#c26578"/>
<path d="M369.20 106.40A2.90 2.90 0 0 1 375.00 106.40V286.10A2.90 2.90 0 0 1 369.20 286.10Z" fill="url(#g12)"/>
<circle cx="372.1" cy="290.90" r="2.65" fill="#0b2d5a"/>
<circle cx="372.1" cy="300.84" r="2.65" fill="#0a2c54"/>
<circle cx="372.1" cy="310.78" r="2.65" fill="#092a4f"/>
<circle cx="372.1" cy="320.72" r="2.65" fill="#08294a"/>
<circle cx="372.1" cy="330.66" r="2.65" fill="#072847"/>
<circle cx="372.1" cy="340.60" r="2.65" fill="#062744"/>
<circle cx="372.1" cy="350.54" r="2.65" fill="#062741"/>
<circle cx="372.1" cy="360.48" r="2.65" fill="#06263f"/>
<circle cx="372.1" cy="370.42" r="2.65" fill="#05263e"/>
<circle cx="372.1" cy="380.36" r="2.65" fill="#05253c"/>
<circle cx="372.1" cy="390.30" r="2.65" fill="#05253b"/>
<circle cx="372.1" cy="400.24" r="2.65" fill="#04253a"/>
<circle cx="372.1" cy="410.18" r="2.65" fill="#042539"/>
<circle cx="372.1" cy="420.12" r="2.65" fill="#042438"/>
<circle cx="372.1" cy="430.06" r="2.65" fill="#042438"/>
<circle cx="372.1" cy="440.00" r="2.65" fill="#042437"/>
<circle cx="372.1" cy="449.94" r="2.65" fill="#042437"/>
<circle cx="372.1" cy="459.88" r="2.65" fill="#042437"/>
<circle cx="372.1" cy="469.82" r="2.65" fill="#042436"/>
<circle cx="372.1" cy="479.76" r="2.65" fill="#042436"/>
<circle cx="372.1" cy="489.70" r="2.65" fill="#042436"/>
<path d="M383.25 109.85V92.65A2.85 2.85 0 0 1 388.95 92.65V109.85Z" fill="#c26578"/>
<path d="M383.25 109.85A2.85 2.85 0 0 1 388.95 109.85V286.15A2.85 2.85 0 0 1 383.25 286.15Z" fill="url(#g13)"/>
<circle cx="386.1" cy="290.90" r="2.65" fill="#0b2d5a"/>
<circle cx="386.1" cy="300.84" r="2.65" fill="#0a2c54"/>
<circle cx="386.1" cy="310.78" r="2.65" fill="#092a4f"/>
<circle cx="386.1" cy="320.72" r="2.65" fill="#08294a"/>
<circle cx="386.1" cy="330.66" r="2.65" fill="#072847"/>
<circle cx="386.1" cy="340.60" r="2.65" fill="#062744"/>
<circle cx="386.1" cy="350.54" r="2.65" fill="#062741"/>
<circle cx="386.1" cy="360.48" r="2.65" fill="#06263f"/>
<circle cx="386.1" cy="370.42" r="2.65" fill="#05263e"/>
<circle cx="386.1" cy="380.36" r="2.65" fill="#05253c"/>
<circle cx="386.1" cy="390.30" r="2.65" fill="#05253b"/>
<circle cx="386.1" cy="400.24" r="2.65" fill="#04253a"/>
<circle cx="386.1" cy="410.18" r="2.65" fill="#042539"/>
<circle cx="386.1" cy="420.12" r="2.65" fill="#042438"/>
<circle cx="386.1" cy="430.06" r="2.65" fill="#042438"/>
<circle cx="386.1" cy="439.88" r="2.65" fill="#042437"/>
<circle cx="386.1" cy="449.70" r="2.65" fill="#042437"/>
<circle cx="386.1" cy="459.52" r="2.65" fill="#042437"/>
<circle cx="386.1" cy="469.34" r="2.65" fill="#042436"/>
<circle cx="386.1" cy="479.16" r="2.65" fill="#042436"/>
<path d="M397.05 113.05V92.85A3.05 3.05 0 0 1 403.15 92.85V113.05Z" fill="#c26578"/>
<path d="M397.05 113.05A3.05 3.05 0 0 1 403.15 113.05V285.95A3.05 3.05 0 0 1 397.05 285.95Z" fill="url(#g14)"/>
<circle cx="400.1" cy="290.90" r="2.65" fill="#0b2d5a"/>
<circle cx="400.1" cy="300.84" r="2.65" fill="#0a2c54"/>
<circle cx="400.1" cy="310.78" r="2.65" fill="#092a4f"/>
<circle cx="400.1" cy="320.72" r="2.65" fill="#08294a"/>
<circle cx="400.1" cy="330.66" r="2.65" fill="#072847"/>
<circle cx="400.1" cy="340.60" r="2.65" fill="#062744"/>
<circle cx="400.1" cy="350.54" r="2.65" fill="#062741"/>
<circle cx="400.1" cy="360.48" r="2.65" fill="#06263f"/>
<circle cx="400.1" cy="370.42" r="2.65" fill="#05263e"/>
<circle cx="400.1" cy="380.36" r="2.65" fill="#05253c"/>
<circle cx="400.1" cy="390.30" r="2.65" fill="#05253b"/>
<circle cx="400.1" cy="400.24" r="2.65" fill="#04253a"/>
<circle cx="400.1" cy="410.18" r="2.65" fill="#042539"/>
<circle cx="400.1" cy="420.12" r="2.65" fill="#042438"/>
<circle cx="400.1" cy="430.06" r="2.65" fill="#042438"/>
<circle cx="400.1" cy="440.00" r="2.65" fill="#042437"/>
<circle cx="400.1" cy="449.94" r="2.65" fill="#042437"/>
<circle cx="400.1" cy="459.88" r="2.65" fill="#042437"/>
<circle cx="400.1" cy="469.82" r="2.65" fill="#042436"/>
<circle cx="400.1" cy="479.76" r="2.65" fill="#042436"/>
<circle cx="400.1" cy="488.70" r="2.65" fill="#042436"/>
<path d="M412.85 106.55V92.35A2.55 2.55 0 0 1 417.95 92.35V106.55Z" fill="#be637a"/>
<path d="M412.85 106.55A2.55 2.55 0 0 1 417.95 106.55V286.45A2.55 2.55 0 0 1 412.85 286.45Z" fill="url(#g15)"/>
<circle cx="415.4" cy="290.90" r="2.65" fill="#0b2d5a"/>
<circle cx="415.4" cy="300.84" r="2.65" fill="#0a2c54"/>
<circle cx="415.4" cy="310.78" r="2.65" fill="#092a4f"/>
<circle cx="415.4" cy="320.72" r="2.65" fill="#08294a"/>
<circle cx="415.4" cy="330.66" r="2.65" fill="#072847"/>
<circle cx="415.4" cy="340.60" r="2.65" fill="#062744"/>
<circle cx="415.4" cy="350.54" r="2.65" fill="#062741"/>
<circle cx="415.4" cy="360.48" r="2.65" fill="#06263f"/>
<circle cx="415.4" cy="370.42" r="2.65" fill="#05263e"/>
<circle cx="415.4" cy="380.36" r="2.65" fill="#05253c"/>
<circle cx="415.4" cy="390.30" r="2.65" fill="#05253b"/>
<circle cx="415.4" cy="400.24" r="2.65" fill="#04253a"/>
<circle cx="415.4" cy="410.18" r="2.65" fill="#042539"/>
<circle cx="415.4" cy="420.12" r="2.65" fill="#042438"/>
<circle cx="415.4" cy="430.06" r="2.65" fill="#042438"/>
<circle cx="415.4" cy="440.00" r="2.65" fill="#042437"/>
<circle cx="415.4" cy="449.94" r="2.65" fill="#042437"/>
<circle cx="415.4" cy="459.88" r="2.65" fill="#042437"/>
<circle cx="415.4" cy="469.82" r="2.65" fill="#042436"/>
<circle cx="415.4" cy="479.76" r="2.65" fill="#042436"/>
<circle cx="415.4" cy="489.70" r="2.65" fill="#042436"/>
<path d="M426.90 111.50V92.30A2.50 2.50 0 0 1 431.90 92.30V111.50Z" fill="#ba627c"/>
<path d="M426.90 111.50A2.50 2.50 0 0 1 431.90 111.50V286.50A2.50 2.50 0 0 1 426.90 286.50Z" fill="url(#g16)"/>
<circle cx="429.4" cy="290.90" r="2.65" fill="#0b2d5a"/>
<circle cx="429.4" cy="300.84" r="2.65" fill="#0a2c54"/>
<circle cx="429.4" cy="310.78" r="2.65" fill="#092a4f"/>
<circle cx="429.4" cy="320.72" r="2.65" fill="#08294a"/>
<circle cx="429.4" cy="330.66" r="2.65" fill="#072847"/>
<circle cx="429.4" cy="340.60" r="2.65" fill="#062744"/>
<circle cx="429.4" cy="350.54" r="2.65" fill="#062741"/>
<circle cx="429.4" cy="360.48" r="2.65" fill="#06263f"/>
<circle cx="429.4" cy="370.42" r="2.65" fill="#05263e"/>
<circle cx="429.4" cy="380.36" r="2.65" fill="#05253c"/>
<circle cx="429.4" cy="390.30" r="2.65" fill="#05253b"/>
<circle cx="429.4" cy="400.24" r="2.65" fill="#04253a"/>
<circle cx="429.4" cy="410.18" r="2.65" fill="#042539"/>
<circle cx="429.4" cy="420.12" r="2.65" fill="#042438"/>
<circle cx="429.4" cy="430.06" r="2.65" fill="#042438"/>
<circle cx="429.4" cy="440.00" r="2.65" fill="#042437"/>
<circle cx="429.4" cy="449.94" r="2.65" fill="#042437"/>
<circle cx="429.4" cy="459.88" r="2.65" fill="#042437"/>
<circle cx="429.4" cy="469.82" r="2.65" fill="#042436"/>
<circle cx="429.4" cy="479.76" r="2.65" fill="#042436"/>
<circle cx="429.4" cy="489.70" r="2.65" fill="#042436"/>
<path d="M440.85 110.85V92.35A2.55 2.55 0 0 1 445.95 92.35V110.85Z" fill="#ba627c"/>
<path d="M440.85 110.85A2.55 2.55 0 0 1 445.95 110.85V286.45A2.55 2.55 0 0 1 440.85 286.45Z" fill="url(#g17)"/>
<circle cx="443.4" cy="290.90" r="2.65" fill="#0b2d5a"/>
<circle cx="443.4" cy="300.84" r="2.65" fill="#0a2c54"/>
<circle cx="443.4" cy="310.78" r="2.65" fill="#092a4f"/>
<circle cx="443.4" cy="320.72" r="2.65" fill="#08294a"/>
<circle cx="443.4" cy="330.66" r="2.65" fill="#072847"/>
<circle cx="443.4" cy="340.60" r="2.65" fill="#062744"/>
<circle cx="443.4" cy="350.54" r="2.65" fill="#062741"/>
<circle cx="443.4" cy="360.48" r="2.65" fill="#06263f"/>
<circle cx="443.4" cy="370.42" r="2.65" fill="#05263e"/>
<circle cx="443.4" cy="380.36" r="2.65" fill="#05253c"/>
<circle cx="443.4" cy="390.30" r="2.65" fill="#05253b"/>
<circle cx="443.4" cy="400.24" r="2.65" fill="#04253a"/>
<circle cx="443.4" cy="410.18" r="2.65" fill="#042539"/>
<circle cx="443.4" cy="420.12" r="2.65" fill="#042438"/>
<circle cx="443.4" cy="430.06" r="2.65" fill="#042438"/>
<circle cx="443.4" cy="439.88" r="2.65" fill="#042437"/>
<circle cx="443.4" cy="449.70" r="2.65" fill="#042437"/>
<circle cx="443.4" cy="459.52" r="2.65" fill="#042437"/>
<circle cx="443.4" cy="469.34" r="2.65" fill="#042436"/>
<circle cx="443.4" cy="479.16" r="2.65" fill="#042436"/>
<path d="M454.90 111.40V92.30A2.50 2.50 0 0 1 459.90 92.30V111.40Z" fill="#c06479"/>
<path d="M454.90 111.40A2.50 2.50 0 0 1 459.90 111.40V286.50A2.50 2.50 0 0 1 454.90 286.50Z" fill="url(#g18)"/>
<circle cx="457.4" cy="290.90" r="2.65" fill="#0b2d5a"/>
<circle cx="457.4" cy="300.84" r="2.65" fill="#0a2c54"/>
<circle cx="457.4" cy="310.78" r="2.65" fill="#092a4f"/>
<circle cx="457.4" cy="320.72" r="2.65" fill="#08294a"/>
<circle cx="457.4" cy="330.66" r="2.65" fill="#072847"/>
<circle cx="457.4" cy="340.60" r="2.65" fill="#062744"/>
<circle cx="457.4" cy="350.54" r="2.65" fill="#062741"/>
<circle cx="457.4" cy="360.48" r="2.65" fill="#06263f"/>
<circle cx="457.4" cy="370.42" r="2.65" fill="#05263e"/>
<circle cx="457.4" cy="380.36" r="2.65" fill="#05253c"/>
<circle cx="457.4" cy="390.30" r="2.65" fill="#05253b"/>
<circle cx="457.4" cy="400.24" r="2.65" fill="#04253a"/>
<circle cx="457.4" cy="410.18" r="2.65" fill="#042539"/>
<circle cx="457.4" cy="420.12" r="2.65" fill="#042438"/>
<circle cx="457.4" cy="430.06" r="2.65" fill="#042438"/>
<circle cx="457.4" cy="440.00" r="2.65" fill="#042437"/>
<circle cx="457.4" cy="449.94" r="2.65" fill="#042437"/>
<circle cx="457.4" cy="459.88" r="2.65" fill="#042437"/>
<circle cx="457.4" cy="469.82" r="2.65" fill="#042436"/>
<circle cx="457.4" cy="479.76" r="2.65" fill="#042436"/>
<circle cx="457.4" cy="489.70" r="2.65" fill="#042436"/>
<path d="M469.85 92.65A2.85 2.85 0 0 1 475.55 92.65V286.15A2.85 2.85 0 0 1 469.85 286.15Z" fill="url(#g19)"/>
<circle cx="472.7" cy="290.90" r="2.65" fill="#0b2d5a"/>
<circle cx="472.7" cy="300.84" r="2.65" fill="#0a2c54"/>
<circle cx="472.7" cy="310.78" r="2.65" fill="#092a4f"/>
<circle cx="472.7" cy="320.72" r="2.65" fill="#08294a"/>
<circle cx="472.7" cy="330.66" r="2.65" fill="#072847"/>
<circle cx="472.7" cy="340.60" r="2.65" fill="#062744"/>
<circle cx="472.7" cy="350.54" r="2.65" fill="#062741"/>
<circle cx="472.7" cy="360.48" r="2.65" fill="#06263f"/>
<circle cx="472.7" cy="370.42" r="2.65" fill="#05263e"/>
<circle cx="472.7" cy="380.36" r="2.65" fill="#05253c"/>
<circle cx="472.7" cy="390.30" r="2.65" fill="#05253b"/>
<circle cx="472.7" cy="400.24" r="2.65" fill="#04253a"/>
<circle cx="472.7" cy="410.18" r="2.65" fill="#042539"/>
<circle cx="472.7" cy="420.12" r="2.65" fill="#042438"/>
<circle cx="472.7" cy="430.06" r="2.65" fill="#042438"/>
<circle cx="472.7" cy="440.00" r="2.65" fill="#042437"/>
<circle cx="472.7" cy="449.94" r="2.65" fill="#042437"/>
<circle cx="472.7" cy="459.88" r="2.65" fill="#042437"/>
<circle cx="472.7" cy="469.82" r="2.65" fill="#042436"/>
<circle cx="472.7" cy="479.76" r="2.65" fill="#042436"/>
<circle cx="472.7" cy="489.70" r="2.65" fill="#042436"/>
<path d="M483.85 92.65A2.85 2.85 0 0 1 489.55 92.65V286.15A2.85 2.85 0 0 1 483.85 286.15Z" fill="url(#g20)"/>
<circle cx="486.7" cy="290.90" r="2.65" fill="#0b2d5a"/>
<circle cx="486.7" cy="300.84" r="2.65" fill="#0a2c54"/>
<circle cx="486.7" cy="310.78" r="2.65" fill="#092a4f"/>
<circle cx="486.7" cy="320.72" r="2.65" fill="#08294a"/>
<circle cx="486.7" cy="330.66" r="2.65" fill="#072847"/>
<circle cx="486.7" cy="340.60" r="2.65" fill="#062744"/>
<circle cx="486.7" cy="350.54" r="2.65" fill="#062741"/>
<circle cx="486.7" cy="360.48" r="2.65" fill="#06263f"/>
<circle cx="486.7" cy="370.42" r="2.65" fill="#05263e"/>
<circle cx="486.7" cy="380.36" r="2.65" fill="#05253c"/>
<circle cx="486.7" cy="390.30" r="2.65" fill="#05253b"/>
<circle cx="486.7" cy="400.24" r="2.65" fill="#04253a"/>
<circle cx="486.7" cy="410.18" r="2.65" fill="#042539"/>
<circle cx="486.7" cy="420.12" r="2.65" fill="#042438"/>
<circle cx="486.7" cy="430.06" r="2.65" fill="#042438"/>
<circle cx="486.7" cy="440.00" r="2.65" fill="#042437"/>
<circle cx="486.7" cy="449.94" r="2.65" fill="#042437"/>
<circle cx="486.7" cy="459.88" r="2.65" fill="#042437"/>
<circle cx="486.7" cy="469.82" r="2.65" fill="#042436"/>
<circle cx="486.7" cy="479.76" r="2.65" fill="#042436"/>
<circle cx="486.7" cy="489.70" r="2.65" fill="#042436"/>
<path d="M497.85 92.65A2.85 2.85 0 0 1 503.55 92.65V286.15A2.85 2.85 0 0 1 497.85 286.15Z" fill="url(#g21)"/>
<circle cx="500.7" cy="290.90" r="2.65" fill="#0b2d5a"/>
<circle cx="500.7" cy="300.84" r="2.65" fill="#0a2c54"/>
<circle cx="500.7" cy="310.78" r="2.65" fill="#092a4f"/>
<circle cx="500.7" cy="320.72" r="2.65" fill="#08294a"/>
<circle cx="500.7" cy="330.66" r="2.65" fill="#072847"/>
<circle cx="500.7" cy="340.60" r="2.65" fill="#062744"/>
<circle cx="500.7" cy="350.54" r="2.65" fill="#062741"/>
<circle cx="500.7" cy="360.48" r="2.65" fill="#06263f"/>
<circle cx="500.7" cy="370.42" r="2.65" fill="#05263e"/>
<circle cx="500.7" cy="380.36" r="2.65" fill="#05253c"/>
<circle cx="500.7" cy="390.30" r="2.65" fill="#05253b"/>
<circle cx="500.7" cy="400.24" r="2.65" fill="#04253a"/>
<circle cx="500.7" cy="410.18" r="2.65" fill="#042539"/>
<circle cx="500.7" cy="420.12" r="2.65" fill="#042438"/>
<circle cx="500.7" cy="430.06" r="2.65" fill="#042438"/>
<circle cx="500.7" cy="440.00" r="2.65" fill="#042437"/>
<circle cx="500.7" cy="449.94" r="2.65" fill="#042437"/>
<circle cx="500.7" cy="459.88" r="2.65" fill="#042437"/>
<circle cx="500.7" cy="469.82" r="2.65" fill="#042436"/>
<circle cx="500.7" cy="479.76" r="2.65" fill="#042436"/>
<circle cx="500.7" cy="489.70" r="2.65" fill="#042436"/>
<path d="M511.85 92.65A2.85 2.85 0 0 1 517.55 92.65V286.15A2.85 2.85 0 0 1 511.85 286.15Z" fill="url(#g22)"/>
<circle cx="514.7" cy="290.90" r="2.65" fill="#0b2d5a"/>
<circle cx="514.7" cy="300.84" r="2.65" fill="#0a2c54"/>
<circle cx="514.7" cy="310.78" r="2.65" fill="#092a4f"/>
<circle cx="514.7" cy="320.72" r="2.65" fill="#08294a"/>
<circle cx="514.7" cy="330.66" r="2.65" fill="#072847"/>
<circle cx="514.7" cy="340.60" r="2.65" fill="#062744"/>
<circle cx="514.7" cy="350.54" r="2.65" fill="#062741"/>
<circle cx="514.7" cy="360.48" r="2.65" fill="#06263f"/>
<circle cx="514.7" cy="370.42" r="2.65" fill="#05263e"/>
<circle cx="514.7" cy="380.36" r="2.65" fill="#05253c"/>
<circle cx="514.7" cy="390.30" r="2.65" fill="#05253b"/>
<circle cx="514.7" cy="400.24" r="2.65" fill="#04253a"/>
<circle cx="514.7" cy="410.18" r="2.65" fill="#042539"/>
<circle cx="514.7" cy="420.12" r="2.65" fill="#042438"/>
<circle cx="514.7" cy="430.06" r="2.65" fill="#042438"/>
<circle cx="514.7" cy="440.00" r="2.65" fill="#042437"/>
<circle cx="514.7" cy="449.94" r="2.65" fill="#042437"/>
<circle cx="514.7" cy="459.88" r="2.65" fill="#042437"/>
<circle cx="514.7" cy="469.82" r="2.65" fill="#042436"/>
<circle cx="514.7" cy="479.76" r="2.65" fill="#042436"/>
<circle cx="514.7" cy="489.70" r="2.65" fill="#042436"/>
<path d="M527.05 92.75A2.95 2.95 0 0 1 532.95 92.75V286.05A2.95 2.95 0 0 1 527.05 286.05Z" fill="url(#g23)"/>
<circle cx="530" cy="290.90" r="2.65" fill="#0b2d5a"/>
<circle cx="530" cy="300.84" r="2.65" fill="#0a2c54"/>
<circle cx="530" cy="310.78" r="2.65" fill="#092a4f"/>
<circle cx="530" cy="320.72" r="2.65" fill="#08294a"/>
<circle cx="530" cy="330.66" r="2.65" fill="#072847"/>
<circle cx="530" cy="340.60" r="2.65" fill="#062744"/>
<circle cx="530" cy="350.54" r="2.65" fill="#062741"/>
<circle cx="530" cy="360.48" r="2.65" fill="#06263f"/>
<circle cx="530" cy="370.42" r="2.65" fill="#05263e"/>
<circle cx="530" cy="380.36" r="2.65" fill="#05253c"/>
<circle cx="530" cy="390.30" r="2.65" fill="#05253b"/>
<circle cx="530" cy="400.24" r="2.65" fill="#04253a"/>
<circle cx="530" cy="410.18" r="2.65" fill="#042539"/>
<circle cx="530" cy="420.12" r="2.65" fill="#042438"/>
<circle cx="530" cy="430.06" r="2.65" fill="#042438"/>
<circle cx="530" cy="440.00" r="2.65" fill="#042437"/>
<circle cx="530" cy="449.94" r="2.65" fill="#042437"/>
<circle cx="530" cy="459.88" r="2.65" fill="#042437"/>
<circle cx="530" cy="469.82" r="2.65" fill="#042436"/>
<circle cx="530" cy="479.76" r="2.65" fill="#042436"/>
<circle cx="530" cy="489.70" r="2.65" fill="#042436"/>
<path d="M540.95 92.85A3.05 3.05 0 0 1 547.05 92.85V285.95A3.05 3.05 0 0 1 540.95 285.95Z" fill="url(#g24)"/>
<circle cx="544" cy="290.90" r="2.65" fill="#0b2d5a"/>
<circle cx="544" cy="300.84" r="2.65" fill="#0a2c54"/>
<circle cx="544" cy="310.78" r="2.65" fill="#092a4f"/>
<circle cx="544" cy="320.72" r="2.65" fill="#08294a"/>
<circle cx="544" cy="330.66" r="2.65" fill="#072847"/>
<circle cx="544" cy="340.60" r="2.65" fill="#062744"/>
<circle cx="544" cy="350.54" r="2.65" fill="#062741"/>
<circle cx="544" cy="360.48" r="2.65" fill="#06263f"/>
<circle cx="544" cy="370.42" r="2.65" fill="#05263e"/>
<circle cx="544" cy="380.36" r="2.65" fill="#05253c"/>
<circle cx="544" cy="390.30" r="2.65" fill="#05253b"/>
<circle cx="544" cy="400.24" r="2.65" fill="#04253a"/>
<circle cx="544" cy="410.18" r="2.65" fill="#042539"/>
<circle cx="544" cy="420.12" r="2.65" fill="#042438"/>
<circle cx="544" cy="430.06" r="2.65" fill="#042438"/>
<circle cx="544" cy="440.00" r="2.65" fill="#042437"/>
<circle cx="544" cy="449.94" r="2.65" fill="#042437"/>
<circle cx="544" cy="459.88" r="2.65" fill="#042437"/>
<circle cx="544" cy="469.82" r="2.65" fill="#042436"/>
<circle cx="544" cy="479.76" r="2.65" fill="#042436"/>
<circle cx="544" cy="488.90" r="2.65" fill="#042436"/>
<path d="M554.95 92.85A3.05 3.05 0 0 1 561.05 92.85V285.95A3.05 3.05 0 0 1 554.95 285.95Z" fill="url(#g25)"/>
<circle cx="558" cy="290.90" r="2.65" fill="#0b2d5a"/>
<circle cx="558" cy="300.84" r="2.65" fill="#0a2c54"/>
<circle cx="558" cy="310.78" r="2.65" fill="#092a4f"/>
<circle cx="558" cy="320.72" r="2.65" fill="#08294a"/>
<circle cx="558" cy="330.66" r="2.65" fill="#072847"/>
<circle cx="558" cy="340.60" r="2.65" fill="#062744"/>
<circle cx="558" cy="350.54" r="2.65" fill="#062741"/>
<circle cx="558" cy="360.48" r="2.65" fill="#06263f"/>
<circle cx="558" cy="370.42" r="2.65" fill="#05263e"/>
<circle cx="558" cy="380.36" r="2.65" fill="#05253c"/>
<circle cx="558" cy="390.30" r="2.65" fill="#05253b"/>
<circle cx="558" cy="400.24" r="2.65" fill="#04253a"/>
<circle cx="558" cy="410.18" r="2.65" fill="#042539"/>
<circle cx="558" cy="420.12" r="2.65" fill="#042438"/>
<circle cx="558" cy="430.06" r="2.65" fill="#042438"/>
<circle cx="558" cy="440.00" r="2.65" fill="#042437"/>
<circle cx="558" cy="449.94" r="2.65" fill="#042437"/>
<circle cx="558" cy="459.88" r="2.65" fill="#042437"/>
<circle cx="558" cy="469.82" r="2.65" fill="#042436"/>
<circle cx="558" cy="479.76" r="2.65" fill="#042436"/>
<circle cx="558" cy="489.70" r="2.65" fill="#042436"/>
<path d="M570.60 99.00V92.50A2.70 2.70 0 0 1 576.00 92.50V99.00Z" fill="url(#g26)"/>
<path d="M570.60 99.00A2.70 2.70 0 0 1 576.00 99.00V286.30A2.70 2.70 0 0 1 570.60 286.30Z" fill="url(#g27)"/>
<circle cx="573.3" cy="290.90" r="2.65" fill="#0b2d5a"/>
<circle cx="573.3" cy="300.84" r="2.65" fill="#0a2c54"/>
<circle cx="573.3" cy="310.78" r="2.65" fill="#092a4f"/>
<circle cx="573.3" cy="320.72" r="2.65" fill="#08294a"/>
<circle cx="573.3" cy="330.66" r="2.65" fill="#072847"/>
<circle cx="573.3" cy="340.60" r="2.65" fill="#062744"/>
<circle cx="573.3" cy="350.54" r="2.65" fill="#062741"/>
<circle cx="573.3" cy="360.48" r="2.65" fill="#06263f"/>
<circle cx="573.3" cy="370.42" r="2.65" fill="#05263e"/>
<circle cx="573.3" cy="380.36" r="2.65" fill="#05253c"/>
<circle cx="573.3" cy="390.30" r="2.65" fill="#05253b"/>
<circle cx="573.3" cy="400.24" r="2.65" fill="#04253a"/>
<circle cx="573.3" cy="410.18" r="2.65" fill="#042539"/>
<circle cx="573.3" cy="420.12" r="2.65" fill="#042438"/>
<circle cx="573.3" cy="430.06" r="2.65" fill="#042438"/>
<circle cx="573.3" cy="440.00" r="2.65" fill="#042437"/>
<circle cx="573.3" cy="449.94" r="2.65" fill="#042437"/>
<circle cx="573.3" cy="459.88" r="2.65" fill="#042437"/>
<circle cx="573.3" cy="469.82" r="2.65" fill="#042436"/>
<circle cx="573.3" cy="479.76" r="2.65" fill="#042436"/>
<circle cx="573.3" cy="489.70" r="2.65" fill="#042436"/>
<path d="M584.45 92.65A2.85 2.85 0 0 1 590.15 92.65V286.15A2.85 2.85 0 0 1 584.45 286.15Z" fill="url(#g28)"/>
<circle cx="587.3" cy="290.90" r="2.65" fill="#0b2d5a"/>
<circle cx="587.3" cy="300.84" r="2.65" fill="#0a2c54"/>
<circle cx="587.3" cy="310.78" r="2.65" fill="#092a4f"/>
<circle cx="587.3" cy="320.72" r="2.65" fill="#08294a"/>
<circle cx="587.3" cy="330.66" r="2.65" fill="#072847"/>
<circle cx="587.3" cy="340.60" r="2.65" fill="#062744"/>
<circle cx="587.3" cy="350.54" r="2.65" fill="#062741"/>
<circle cx="587.3" cy="360.48" r="2.65" fill="#06263f"/>
<circle cx="587.3" cy="370.42" r="2.65" fill="#05263e"/>
<circle cx="587.3" cy="380.36" r="2.65" fill="#05253c"/>
<circle cx="587.3" cy="390.30" r="2.65" fill="#05253b"/>
<circle cx="587.3" cy="400.24" r="2.65" fill="#04253a"/>
<circle cx="587.3" cy="410.18" r="2.65" fill="#042539"/>
<circle cx="587.3" cy="420.12" r="2.65" fill="#042438"/>
<circle cx="587.3" cy="430.06" r="2.65" fill="#042438"/>
<circle cx="587.3" cy="440.00" r="2.65" fill="#042437"/>
<circle cx="587.3" cy="449.94" r="2.65" fill="#042437"/>
<circle cx="587.3" cy="459.88" r="2.65" fill="#042437"/>
<circle cx="587.3" cy="469.82" r="2.65" fill="#042436"/>
<circle cx="587.3" cy="479.76" r="2.65" fill="#042436"/>
<circle cx="587.3" cy="489.70" r="2.65" fill="#042436"/>
<path d="M598.45 98.85V92.65A2.85 2.85 0 0 1 604.15 92.65V98.85Z" fill="url(#g29)"/>
<path d="M598.45 98.85A2.85 2.85 0 0 1 604.15 98.85V286.15A2.85 2.85 0 0 1 598.45 286.15Z" fill="url(#g30)"/>
<circle cx="601.3" cy="290.90" r="2.65" fill="#0b2d5a"/>
<circle cx="601.3" cy="300.84" r="2.65" fill="#0a2c54"/>
<circle cx="601.3" cy="310.78" r="2.65" fill="#092a4f"/>
<circle cx="601.3" cy="320.72" r="2.65" fill="#08294a"/>
<circle cx="601.3" cy="330.66" r="2.65" fill="#072847"/>
<circle cx="601.3" cy="340.60" r="2.65" fill="#062744"/>
<circle cx="601.3" cy="350.54" r="2.65" fill="#062741"/>
<circle cx="601.3" cy="360.48" r="2.65" fill="#06263f"/>
<circle cx="601.3" cy="370.42" r="2.65" fill="#05263e"/>
<circle cx="601.3" cy="380.36" r="2.65" fill="#05253c"/>
<circle cx="601.3" cy="390.30" r="2.65" fill="#05253b"/>
<circle cx="601.3" cy="400.24" r="2.65" fill="#04253a"/>
<circle cx="601.3" cy="410.18" r="2.65" fill="#042539"/>
<circle cx="601.3" cy="420.12" r="2.65" fill="#042438"/>
<circle cx="601.3" cy="430.06" r="2.65" fill="#042438"/>
<circle cx="601.3" cy="440.00" r="2.65" fill="#042437"/>
<circle cx="601.3" cy="449.94" r="2.65" fill="#042437"/>
<circle cx="601.3" cy="459.88" r="2.65" fill="#042437"/>
<circle cx="601.3" cy="469.82" r="2.65" fill="#042436"/>
<circle cx="601.3" cy="479.76" r="2.65" fill="#042436"/>
<circle cx="601.3" cy="489.20" r="2.65" fill="#042436"/>
<path d="M612.45 92.65A2.85 2.85 0 0 1 618.15 92.65V286.15A2.85 2.85 0 0 1 612.45 286.15Z" fill="url(#g31)"/>
<circle cx="615.3" cy="290.90" r="2.65" fill="#0b2d5a"/>
<circle cx="615.3" cy="300.84" r="2.65" fill="#0a2c54"/>
<circle cx="615.3" cy="310.78" r="2.65" fill="#092a4f"/>
<circle cx="615.3" cy="320.72" r="2.65" fill="#08294a"/>
<circle cx="615.3" cy="330.66" r="2.65" fill="#072847"/>
<circle cx="615.3" cy="340.60" r="2.65" fill="#062744"/>
<circle cx="615.3" cy="350.54" r="2.65" fill="#062741"/>
<circle cx="615.3" cy="360.48" r="2.65" fill="#06263f"/>
<circle cx="615.3" cy="370.42" r="2.65" fill="#05263e"/>
<circle cx="615.3" cy="380.36" r="2.65" fill="#05253c"/>
<circle cx="615.3" cy="390.30" r="2.65" fill="#05253b"/>
<circle cx="615.3" cy="400.24" r="2.65" fill="#04253a"/>
<circle cx="615.3" cy="410.18" r="2.65" fill="#042539"/>
<circle cx="615.3" cy="420.12" r="2.65" fill="#042438"/>
<circle cx="615.3" cy="430.06" r="2.65" fill="#042438"/>
<circle cx="615.3" cy="440.00" r="2.65" fill="#042437"/>
<circle cx="615.3" cy="449.94" r="2.65" fill="#042437"/>
<circle cx="615.3" cy="459.88" r="2.65" fill="#042437"/>
<circle cx="615.3" cy="469.82" r="2.65" fill="#042436"/>
<circle cx="615.3" cy="479.76" r="2.65" fill="#042436"/>
<circle cx="615.3" cy="489.70" r="2.65" fill="#042436"/>
<path d="M627.75 97.55V92.65A2.85 2.85 0 0 1 633.45 92.65V97.55Z" fill="#eced53"/>
<path d="M627.75 102.75V97.55A2.85 2.85 0 0 1 633.45 97.55V102.75Z" fill="url(#g32)"/>
<path d="M627.75 102.75A2.85 2.85 0 0 1 633.45 102.75V286.15A2.85 2.85 0 0 1 627.75 286.15Z" fill="url(#g33)"/>
<circle cx="630.6" cy="290.90" r="2.65" fill="#0b2d5a"/>
<circle cx="630.6" cy="300.84" r="2.65" fill="#0a2c54"/>
<circle cx="630.6" cy="310.78" r="2.65" fill="#092a4f"/>
<circle cx="630.6" cy="320.72" r="2.65" fill="#08294a"/>
<circle cx="630.6" cy="330.66" r="2.65" fill="#072847"/>
<circle cx="630.6" cy="340.60" r="2.65" fill="#062744"/>
<circle cx="630.6" cy="350.54" r="2.65" fill="#062741"/>
<circle cx="630.6" cy="360.48" r="2.65" fill="#06263f"/>
<circle cx="630.6" cy="370.42" r="2.65" fill="#05263e"/>
<circle cx="630.6" cy="380.36" r="2.65" fill="#05253c"/>
<circle cx="630.6" cy="390.30" r="2.65" fill="#05253b"/>
<circle cx="630.6" cy="400.24" r="2.65" fill="#04253a"/>
<circle cx="630.6" cy="410.18" r="2.65" fill="#042539"/>
<circle cx="630.6" cy="420.12" r="2.65" fill="#042438"/>
<circle cx="630.6" cy="430.06" r="2.65" fill="#042438"/>
<circle cx="630.6" cy="439.88" r="2.65" fill="#042437"/>
<circle cx="630.6" cy="449.70" r="2.65" fill="#042437"/>
<circle cx="630.6" cy="459.52" r="2.65" fill="#042437"/>
<circle cx="630.6" cy="469.34" r="2.65" fill="#042436"/>
<circle cx="630.6" cy="479.16" r="2.65" fill="#042436"/>
<path d="M641.80 98.80V92.60A2.80 2.80 0 0 1 647.40 92.60V98.80Z" fill="#edea52"/>
<path d="M641.80 98.80A2.80 2.80 0 0 1 647.40 98.80V286.20A2.80 2.80 0 0 1 641.80 286.20Z" fill="url(#g34)"/>
<circle cx="644.6" cy="290.90" r="2.65" fill="#0b2d5a"/>
<circle cx="644.6" cy="300.84" r="2.65" fill="#0a2c54"/>
<circle cx="644.6" cy="310.78" r="2.65" fill="#092a4f"/>
<circle cx="644.6" cy="320.72" r="2.65" fill="#08294a"/>
<circle cx="644.6" cy="330.66" r="2.65" fill="#072847"/>
<circle cx="644.6" cy="340.60" r="2.65" fill="#062744"/>
<circle cx="644.6" cy="350.54" r="2.65" fill="#062741"/>
<circle cx="644.6" cy="360.48" r="2.65" fill="#06263f"/>
<circle cx="644.6" cy="370.42" r="2.65" fill="#05263e"/>
<circle cx="644.6" cy="380.36" r="2.65" fill="#05253c"/>
<circle cx="644.6" cy="390.30" r="2.65" fill="#05253b"/>
<circle cx="644.6" cy="400.24" r="2.65" fill="#04253a"/>
<circle cx="644.6" cy="410.18" r="2.65" fill="#042539"/>
<circle cx="644.6" cy="420.12" r="2.65" fill="#042438"/>
<circle cx="644.6" cy="430.06" r="2.65" fill="#042438"/>
<circle cx="644.6" cy="440.00" r="2.65" fill="#042437"/>
<circle cx="644.6" cy="449.94" r="2.65" fill="#042437"/>
<circle cx="644.6" cy="459.88" r="2.65" fill="#042437"/>
<circle cx="644.6" cy="469.82" r="2.65" fill="#042436"/>
<circle cx="644.6" cy="479.76" r="2.65" fill="#042436"/>
<circle cx="644.6" cy="489.70" r="2.65" fill="#042436"/>
<path d="M655.75 97.55V92.65A2.85 2.85 0 0 1 661.45 92.65V97.55Z" fill="#eee851"/>
<path d="M655.75 97.55A2.85 2.85 0 0 1 661.45 97.55V286.15A2.85 2.85 0 0 1 655.75 286.15Z" fill="url(#g35)"/>
<circle cx="658.6" cy="290.90" r="2.65" fill="#0b2d5a"/>
<circle cx="658.6" cy="300.84" r="2.65" fill="#0a2c54"/>
<circle cx="658.6" cy="310.78" r="2.65" fill="#092a4f"/>
<circle cx="658.6" cy="320.72" r="2.65" fill="#08294a"/>
<circle cx="658.6" cy="330.66" r="2.65" fill="#072847"/>
<circle cx="658.6" cy="340.60" r="2.65" fill="#062744"/>
<circle cx="658.6" cy="350.54" r="2.65" fill="#062741"/>
<circle cx="658.6" cy="360.48" r="2.65" fill="#06263f"/>
<circle cx="658.6" cy="370.42" r="2.65" fill="#05263e"/>
<circle cx="658.6" cy="380.36" r="2.65" fill="#05253c"/>
<circle cx="658.6" cy="390.30" r="2.65" fill="#05253b"/>
<circle cx="658.6" cy="400.24" r="2.65" fill="#04253a"/>
<circle cx="658.6" cy="410.18" r="2.65" fill="#042539"/>
<circle cx="658.6" cy="420.12" r="2.65" fill="#042438"/>
<circle cx="658.6" cy="430.06" r="2.65" fill="#042438"/>
<circle cx="658.6" cy="440.00" r="2.65" fill="#042437"/>
<circle cx="658.6" cy="449.94" r="2.65" fill="#042437"/>
<circle cx="658.6" cy="459.88" r="2.65" fill="#042437"/>
<circle cx="658.6" cy="469.82" r="2.65" fill="#042436"/>
<circle cx="658.6" cy="479.76" r="2.65" fill="#042436"/>
<circle cx="658.6" cy="489.70" r="2.65" fill="#042436"/>
<path d="M670.05 100.25V92.35A2.55 2.55 0 0 1 675.15 92.35V100.25Z" fill="#f0e44e"/>
<path d="M670.05 100.25A2.55 2.55 0 0 1 675.15 100.25V286.45A2.55 2.55 0 0 1 670.05 286.45Z" fill="url(#g36)"/>
<circle cx="672.6" cy="290.90" r="2.65" fill="#0b2d5a"/>
<circle cx="672.6" cy="300.84" r="2.65" fill="#0a2c54"/>
<circle cx="672.6" cy="310.78" r="2.65" fill="#092a4f"/>
<circle cx="672.6" cy="320.72" r="2.65" fill="#08294a"/>
<circle cx="672.6" cy="330.66" r="2.65" fill="#072847"/>
<circle cx="672.6" cy="340.60" r="2.65" fill="#062744"/>
<circle cx="672.6" cy="350.54" r="2.65" fill="#062741"/>
<circle cx="672.6" cy="360.48" r="2.65" fill="#06263f"/>
<circle cx="672.6" cy="370.42" r="2.65" fill="#05263e"/>
<circle cx="672.6" cy="380.36" r="2.65" fill="#05253c"/>
<circle cx="672.6" cy="390.30" r="2.65" fill="#05253b"/>
<circle cx="672.6" cy="400.24" r="2.65" fill="#04253a"/>
<circle cx="672.6" cy="410.18" r="2.65" fill="#042539"/>
<circle cx="672.6" cy="420.12" r="2.65" fill="#042438"/>
<circle cx="672.6" cy="430.06" r="2.65" fill="#042438"/>
<circle cx="672.6" cy="440.00" r="2.65" fill="#042437"/>
<circle cx="672.6" cy="449.94" r="2.65" fill="#042437"/>
<circle cx="672.6" cy="459.88" r="2.65" fill="#042437"/>
<circle cx="672.6" cy="469.82" r="2.65" fill="#042436"/>
<circle cx="672.6" cy="479.76" r="2.65" fill="#042436"/>
<circle cx="672.6" cy="489.70" r="2.65" fill="#042436"/>
<path d="M684.95 100.35V92.75A2.95 2.95 0 0 1 690.85 92.75V100.35Z" fill="#f1df4c"/>
<path d="M684.95 100.35A2.95 2.95 0 0 1 690.85 100.35V286.05A2.95 2.95 0 0 1 684.95 286.05Z" fill="url(#g37)"/>
<circle cx="687.9" cy="290.90" r="2.65" fill="#0b2d5a"/>
<circle cx="687.9" cy="300.84" r="2.65" fill="#0a2c54"/>
<circle cx="687.9" cy="310.78" r="2.65" fill="#092a4f"/>
<circle cx="687.9" cy="320.72" r="2.65" fill="#08294a"/>
<circle cx="687.9" cy="330.66" r="2.65" fill="#072847"/>
<circle cx="687.9" cy="340.60" r="2.65" fill="#062744"/>
<circle cx="687.9" cy="350.54" r="2.65" fill="#062741"/>
<circle cx="687.9" cy="360.48" r="2.65" fill="#06263f"/>
<circle cx="687.9" cy="370.42" r="2.65" fill="#05263e"/>
<circle cx="687.9" cy="380.36" r="2.65" fill="#05253c"/>
<circle cx="687.9" cy="390.30" r="2.65" fill="#05253b"/>
<circle cx="687.9" cy="400.24" r="2.65" fill="#04253a"/>
<circle cx="687.9" cy="410.18" r="2.65" fill="#042539"/>
<circle cx="687.9" cy="420.12" r="2.65" fill="#042438"/>
<circle cx="687.9" cy="430.06" r="2.65" fill="#042438"/>
<circle cx="687.9" cy="440.00" r="2.65" fill="#042437"/>
<circle cx="687.9" cy="449.94" r="2.65" fill="#042437"/>
<circle cx="687.9" cy="459.88" r="2.65" fill="#042437"/>
<circle cx="687.9" cy="469.82" r="2.65" fill="#042436"/>
<circle cx="687.9" cy="479.76" r="2.65" fill="#042436"/>
<circle cx="687.9" cy="489.70" r="2.65" fill="#042436"/>
<path d="M698.95 100.95V92.75A2.95 2.95 0 0 1 704.85 92.75V100.95Z" fill="#f2dd4b"/>
<path d="M698.95 100.95A2.95 2.95 0 0 1 704.85 100.95V286.05A2.95 2.95 0 0 1 698.95 286.05Z" fill="url(#g38)"/>
<circle cx="701.9" cy="290.90" r="2.65" fill="#0b2d5a"/>
<circle cx="701.9" cy="300.84" r="2.65" fill="#0a2c54"/>
<circle cx="701.9" cy="310.78" r="2.65" fill="#092a4f"/>
<circle cx="701.9" cy="320.72" r="2.65" fill="#08294a"/>
<circle cx="701.9" cy="330.66" r="2.65" fill="#072847"/>
<circle cx="701.9" cy="340.60" r="2.65" fill="#062744"/>
<circle cx="701.9" cy="350.54" r="2.65" fill="#062741"/>
<circle cx="701.9" cy="360.48" r="2.65" fill="#06263f"/>
<circle cx="701.9" cy="370.42" r="2.65" fill="#05263e"/>
<circle cx="701.9" cy="380.36" r="2.65" fill="#05253c"/>
<circle cx="701.9" cy="390.30" r="2.65" fill="#05253b"/>
<circle cx="701.9" cy="400.24" r="2.65" fill="#04253a"/>
<circle cx="701.9" cy="410.18" r="2.65" fill="#042539"/>
<circle cx="701.9" cy="420.12" r="2.65" fill="#042438"/>
<circle cx="701.9" cy="430.06" r="2.65" fill="#042438"/>
<circle cx="701.9" cy="440.00" r="2.65" fill="#042437"/>
<circle cx="701.9" cy="449.94" r="2.65" fill="#042437"/>
<circle cx="701.9" cy="459.88" r="2.65" fill="#042437"/>
<circle cx="701.9" cy="469.82" r="2.65" fill="#042436"/>
<circle cx="701.9" cy="479.76" r="2.65" fill="#042436"/>
<circle cx="701.9" cy="489.70" r="2.65" fill="#042436"/>
<path d="M712.95 103.25V92.75A2.95 2.95 0 0 1 718.85 92.75V103.25Z" fill="#f8c743"/>
<path d="M712.95 103.25A2.95 2.95 0 0 1 718.85 103.25V286.05A2.95 2.95 0 0 1 712.95 286.05Z" fill="url(#g39)"/>
<circle cx="715.9" cy="290.90" r="2.65" fill="#0b2d5a"/>
<circle cx="715.9" cy="300.84" r="2.65" fill="#0a2c54"/>
<circle cx="715.9" cy="310.78" r="2.65" fill="#092a4f"/>
<circle cx="715.9" cy="320.72" r="2.65" fill="#08294a"/>
<circle cx="715.9" cy="330.66" r="2.65" fill="#072847"/>
<circle cx="715.9" cy="340.60" r="2.65" fill="#062744"/>
<circle cx="715.9" cy="350.54" r="2.65" fill="#062741"/>
<circle cx="715.9" cy="360.48" r="2.65" fill="#06263f"/>
<circle cx="715.9" cy="370.42" r="2.65" fill="#05263e"/>
<circle cx="715.9" cy="380.36" r="2.65" fill="#05253c"/>
<circle cx="715.9" cy="390.30" r="2.65" fill="#05253b"/>
<circle cx="715.9" cy="400.24" r="2.65" fill="#04253a"/>
<circle cx="715.9" cy="410.18" r="2.65" fill="#042539"/>
<circle cx="715.9" cy="420.12" r="2.65" fill="#042438"/>
<circle cx="715.9" cy="430.06" r="2.65" fill="#042438"/>
<circle cx="715.9" cy="440.00" r="2.65" fill="#042437"/>
<circle cx="715.9" cy="449.94" r="2.65" fill="#042437"/>
<circle cx="715.9" cy="459.88" r="2.65" fill="#042437"/>
<circle cx="715.9" cy="469.82" r="2.65" fill="#042436"/>
<circle cx="715.9" cy="479.76" r="2.65" fill="#042436"/>
<circle cx="715.9" cy="489.70" r="2.65" fill="#042436"/>
<path d="M728.15 106.05V92.75A2.95 2.95 0 0 1 734.05 92.75V106.05Z" fill="#fab73f"/>
<path d="M728.15 106.05A2.95 2.95 0 0 1 734.05 106.05V286.05A2.95 2.95 0 0 1 728.15 286.05Z" fill="url(#g40)"/>
<circle cx="731.1" cy="290.90" r="2.65" fill="#0b2d5a"/>
<circle cx="731.1" cy="300.84" r="2.65" fill="#0a2c54"/>
<circle cx="731.1" cy="310.78" r="2.65" fill="#092a4f"/>
<circle cx="731.1" cy="320.72" r="2.65" fill="#08294a"/>
<circle cx="731.1" cy="330.66" r="2.65" fill="#072847"/>
<circle cx="731.1" cy="340.60" r="2.65" fill="#062744"/>
<circle cx="731.1" cy="350.54" r="2.65" fill="#062741"/>
<circle cx="731.1" cy="360.48" r="2.65" fill="#06263f"/>
<circle cx="731.1" cy="370.42" r="2.65" fill="#05263e"/>
<circle cx="731.1" cy="380.36" r="2.65" fill="#05253c"/>
<circle cx="731.1" cy="390.30" r="2.65" fill="#05253b"/>
<circle cx="731.1" cy="400.24" r="2.65" fill="#04253a"/>
<circle cx="731.1" cy="410.18" r="2.65" fill="#042539"/>
<circle cx="731.1" cy="420.12" r="2.65" fill="#042438"/>
<circle cx="731.1" cy="430.06" r="2.65" fill="#042438"/>
<circle cx="731.1" cy="440.00" r="2.65" fill="#042437"/>
<circle cx="731.1" cy="449.94" r="2.65" fill="#042437"/>
<circle cx="731.1" cy="459.88" r="2.65" fill="#042437"/>
<circle cx="731.1" cy="469.82" r="2.65" fill="#042436"/>
<circle cx="731.1" cy="479.76" r="2.65" fill="#042436"/>
<circle cx="731.1" cy="489.70" r="2.65" fill="#042436"/>
<path d="M742.15 107.85V92.75A2.95 2.95 0 0 1 748.05 92.75V107.85Z" fill="#f99f40"/>
<path d="M742.15 107.85A2.95 2.95 0 0 1 748.05 107.85V286.05A2.95 2.95 0 0 1 742.15 286.05Z" fill="url(#g41)"/>
<circle cx="745.1" cy="290.90" r="2.65" fill="#0b2d5a"/>
<circle cx="745.1" cy="300.84" r="2.65" fill="#0a2c54"/>
<circle cx="745.1" cy="310.78" r="2.65" fill="#092a4f"/>
<circle cx="745.1" cy="320.72" r="2.65" fill="#08294a"/>
<circle cx="745.1" cy="330.66" r="2.65" fill="#072847"/>
<circle cx="745.1" cy="340.60" r="2.65" fill="#062744"/>
<circle cx="745.1" cy="350.54" r="2.65" fill="#062741"/>
<circle cx="745.1" cy="360.48" r="2.65" fill="#06263f"/>
<circle cx="745.1" cy="370.42" r="2.65" fill="#05263e"/>
<circle cx="745.1" cy="380.36" r="2.65" fill="#05253c"/>
<circle cx="745.1" cy="390.30" r="2.65" fill="#05253b"/>
<circle cx="745.1" cy="400.24" r="2.65" fill="#04253a"/>
<circle cx="745.1" cy="410.18" r="2.65" fill="#042539"/>
<circle cx="745.1" cy="420.12" r="2.65" fill="#042438"/>
<circle cx="745.1" cy="430.06" r="2.65" fill="#042438"/>
<circle cx="745.1" cy="439.88" r="2.65" fill="#042437"/>
<circle cx="745.1" cy="449.70" r="2.65" fill="#042437"/>
<circle cx="745.1" cy="459.52" r="2.65" fill="#042437"/>
<circle cx="745.1" cy="469.34" r="2.65" fill="#042436"/>
<circle cx="745.1" cy="479.16" r="2.65" fill="#042436"/>
<path d="M756.15 106.95V92.75A2.95 2.95 0 0 1 762.05 92.75V106.95Z" fill="#f2874a"/>
<path d="M756.15 106.95A2.95 2.95 0 0 1 762.05 106.95V286.05A2.95 2.95 0 0 1 756.15 286.05Z" fill="url(#g42)"/>
<circle cx="759.1" cy="290.90" r="2.65" fill="#0b2d5a"/>
<circle cx="759.1" cy="300.84" r="2.65" fill="#0a2c54"/>
<circle cx="759.1" cy="310.78" r="2.65" fill="#092a4f"/>
<circle cx="759.1" cy="320.72" r="2.65" fill="#08294a"/>
<circle cx="759.1" cy="330.66" r="2.65" fill="#072847"/>
<circle cx="759.1" cy="340.60" r="2.65" fill="#062744"/>
<circle cx="759.1" cy="350.54" r="2.65" fill="#062741"/>
<circle cx="759.1" cy="360.48" r="2.65" fill="#06263f"/>
<circle cx="759.1" cy="370.42" r="2.65" fill="#05263e"/>
<circle cx="759.1" cy="380.36" r="2.65" fill="#05253c"/>
<circle cx="759.1" cy="390.30" r="2.65" fill="#05253b"/>
<circle cx="759.1" cy="400.24" r="2.65" fill="#04253a"/>
<circle cx="759.1" cy="410.18" r="2.65" fill="#042539"/>
<circle cx="759.1" cy="420.12" r="2.65" fill="#042438"/>
<circle cx="759.1" cy="430.06" r="2.65" fill="#042438"/>
<circle cx="759.1" cy="440.00" r="2.65" fill="#042437"/>
<circle cx="759.1" cy="449.94" r="2.65" fill="#042437"/>
<circle cx="759.1" cy="459.88" r="2.65" fill="#042437"/>
<circle cx="759.1" cy="469.82" r="2.65" fill="#042436"/>
<circle cx="759.1" cy="479.76" r="2.65" fill="#042436"/>
<circle cx="759.1" cy="489.70" r="2.65" fill="#042436"/>
<path d="M770.15 105.95V92.75A2.95 2.95 0 0 1 776.05 92.75V105.95Z" fill="#ec7f52"/>
<path d="M770.15 105.95A2.95 2.95 0 0 1 776.05 105.95V286.05A2.95 2.95 0 0 1 770.15 286.05Z" fill="url(#g43)"/>
<circle cx="773.1" cy="290.90" r="2.65" fill="#0b2d5a"/>
<circle cx="773.1" cy="300.84" r="2.65" fill="#0a2c54"/>
<circle cx="773.1" cy="310.78" r="2.65" fill="#092a4f"/>
<circle cx="773.1" cy="320.72" r="2.65" fill="#08294a"/>
<circle cx="773.1" cy="330.66" r="2.65" fill="#072847"/>
<circle cx="773.1" cy="340.60" r="2.65" fill="#062744"/>
<circle cx="773.1" cy="350.54" r="2.65" fill="#062741"/>
<circle cx="773.1" cy="360.48" r="2.65" fill="#06263f"/>
<circle cx="773.1" cy="370.42" r="2.65" fill="#05263e"/>
<circle cx="773.1" cy="380.36" r="2.65" fill="#05253c"/>
<circle cx="773.1" cy="390.30" r="2.65" fill="#05253b"/>
<circle cx="773.1" cy="400.24" r="2.65" fill="#04253a"/>
<circle cx="773.1" cy="410.18" r="2.65" fill="#042539"/>
<circle cx="773.1" cy="420.12" r="2.65" fill="#042438"/>
<circle cx="773.1" cy="430.06" r="2.65" fill="#042438"/>
<circle cx="773.1" cy="440.00" r="2.65" fill="#042437"/>
<circle cx="773.1" cy="449.94" r="2.65" fill="#042437"/>
<circle cx="773.1" cy="459.88" r="2.65" fill="#042437"/>
<circle cx="773.1" cy="469.82" r="2.65" fill="#042436"/>
<circle cx="773.1" cy="479.76" r="2.65" fill="#042436"/>
<circle cx="773.1" cy="489.70" r="2.65" fill="#042436"/>
<path d="M785.95 111.85V92.25A2.45 2.45 0 0 1 790.85 92.25V111.85Z" fill="#e4755d"/>
<path d="M785.95 111.85A2.45 2.45 0 0 1 790.85 111.85V286.55A2.45 2.45 0 0 1 785.95 286.55Z" fill="url(#g44)"/>
<circle cx="788.4" cy="290.90" r="2.65" fill="#0b2d5a"/>
<circle cx="788.4" cy="300.84" r="2.65" fill="#0a2c54"/>
<circle cx="788.4" cy="310.78" r="2.65" fill="#092a4f"/>
<circle cx="788.4" cy="320.72" r="2.65" fill="#08294a"/>
<circle cx="788.4" cy="330.66" r="2.65" fill="#072847"/>
<circle cx="788.4" cy="340.60" r="2.65" fill="#062744"/>
<circle cx="788.4" cy="350.54" r="2.65" fill="#062741"/>
<circle cx="788.4" cy="360.48" r="2.65" fill="#06263f"/>
<circle cx="788.4" cy="370.42" r="2.65" fill="#05263e"/>
<circle cx="788.4" cy="380.36" r="2.65" fill="#05253c"/>
<circle cx="788.4" cy="390.30" r="2.65" fill="#05253b"/>
<circle cx="788.4" cy="400.24" r="2.65" fill="#04253a"/>
<circle cx="788.4" cy="410.18" r="2.65" fill="#042539"/>
<circle cx="788.4" cy="420.12" r="2.65" fill="#042438"/>
<circle cx="788.4" cy="430.06" r="2.65" fill="#042438"/>
<circle cx="788.4" cy="440.00" r="2.65" fill="#042437"/>
<circle cx="788.4" cy="449.94" r="2.65" fill="#042437"/>
<circle cx="788.4" cy="459.88" r="2.65" fill="#042437"/>
<circle cx="788.4" cy="469.82" r="2.65" fill="#042436"/>
<circle cx="788.4" cy="479.76" r="2.65" fill="#042436"/>
<circle cx="788.4" cy="489.70" r="2.65" fill="#042436"/>
<path d="M799.85 113.15V92.35A2.55 2.55 0 0 1 804.95 92.35V113.15Z" fill="#d86e67"/>
<path d="M799.85 113.15A2.55 2.55 0 0 1 804.95 113.15V286.45A2.55 2.55 0 0 1 799.85 286.45Z" fill="url(#g45)"/>
<circle cx="802.4" cy="290.90" r="2.65" fill="#0b2d5a"/>
<circle cx="802.4" cy="300.84" r="2.65" fill="#0a2c54"/>
<circle cx="802.4" cy="310.78" r="2.65" fill="#092a4f"/>
<circle cx="802.4" cy="320.72" r="2.65" fill="#08294a"/>
<circle cx="802.4" cy="330.66" r="2.65" fill="#072847"/>
<circle cx="802.4" cy="340.60" r="2.65" fill="#062744"/>
<circle cx="802.4" cy="350.54" r="2.65" fill="#062741"/>
<circle cx="802.4" cy="360.48" r="2.65" fill="#06263f"/>
<circle cx="802.4" cy="370.42" r="2.65" fill="#05263e"/>
<circle cx="802.4" cy="380.36" r="2.65" fill="#05253c"/>
<circle cx="802.4" cy="390.30" r="2.65" fill="#05253b"/>
<circle cx="802.4" cy="400.24" r="2.65" fill="#04253a"/>
<circle cx="802.4" cy="410.18" r="2.65" fill="#042539"/>
<circle cx="802.4" cy="420.12" r="2.65" fill="#042438"/>
<circle cx="802.4" cy="430.06" r="2.65" fill="#042438"/>
<circle cx="802.4" cy="440.00" r="2.65" fill="#042437"/>
<circle cx="802.4" cy="449.94" r="2.65" fill="#042437"/>
<circle cx="802.4" cy="459.88" r="2.65" fill="#042437"/>
<circle cx="802.4" cy="469.82" r="2.65" fill="#042436"/>
<circle cx="802.4" cy="479.76" r="2.65" fill="#042436"/>
<circle cx="802.4" cy="490.30" r="2.65" fill="#042436"/>
<path d="M813.85 113.65V92.35A2.55 2.55 0 0 1 818.95 92.35V113.65Z" fill="#d56c6a"/>
<path d="M813.85 113.65A2.55 2.55 0 0 1 818.95 113.65V286.45A2.55 2.55 0 0 1 813.85 286.45Z" fill="url(#g46)"/>
<circle cx="816.4" cy="290.90" r="2.65" fill="#0b2d5a"/>
<circle cx="816.4" cy="300.84" r="2.65" fill="#0a2c54"/>
<circle cx="816.4" cy="310.78" r="2.65" fill="#092a4f"/>
<circle cx="816.4" cy="320.72" r="2.65" fill="#08294a"/>
<circle cx="816.4" cy="330.66" r="2.65" fill="#072847"/>
<circle cx="816.4" cy="340.60" r="2.65" fill="#062744"/>
<circle cx="816.4" cy="350.54" r="2.65" fill="#062741"/>
<circle cx="816.4" cy="360.48" r="2.65" fill="#06263f"/>
<circle cx="816.4" cy="370.42" r="2.65" fill="#05263e"/>
<circle cx="816.4" cy="380.36" r="2.65" fill="#05253c"/>
<circle cx="816.4" cy="390.30" r="2.65" fill="#05253b"/>
<circle cx="816.4" cy="400.24" r="2.65" fill="#04253a"/>
<circle cx="816.4" cy="410.18" r="2.65" fill="#042539"/>
<circle cx="816.4" cy="420.12" r="2.65" fill="#042438"/>
<circle cx="816.4" cy="430.06" r="2.65" fill="#042438"/>
<circle cx="816.4" cy="440.00" r="2.65" fill="#042437"/>
<circle cx="816.4" cy="449.94" r="2.65" fill="#042437"/>
<circle cx="816.4" cy="459.88" r="2.65" fill="#042437"/>
<circle cx="816.4" cy="469.82" r="2.65" fill="#042436"/>
<circle cx="816.4" cy="479.76" r="2.65" fill="#042436"/>
<circle cx="816.4" cy="489.30" r="2.65" fill="#042436"/>
<path d="M828.85 116.85V92.65A2.85 2.85 0 0 1 834.55 92.65V116.85Z" fill="#d76d69"/>
<path d="M828.85 116.85A2.85 2.85 0 0 1 834.55 116.85V286.15A2.85 2.85 0 0 1 828.85 286.15Z" fill="url(#g47)"/>
<circle cx="831.7" cy="290.90" r="2.65" fill="#0b2d5a"/>
<circle cx="831.7" cy="300.84" r="2.65" fill="#0a2c54"/>
<circle cx="831.7" cy="310.78" r="2.65" fill="#092a4f"/>
<circle cx="831.7" cy="320.72" r="2.65" fill="#08294a"/>
<circle cx="831.7" cy="330.66" r="2.65" fill="#072847"/>
<circle cx="831.7" cy="340.60" r="2.65" fill="#062744"/>
<circle cx="831.7" cy="350.54" r="2.65" fill="#062741"/>
<circle cx="831.7" cy="360.48" r="2.65" fill="#06263f"/>
<circle cx="831.7" cy="370.42" r="2.65" fill="#05263e"/>
<circle cx="831.7" cy="380.36" r="2.65" fill="#05253c"/>
<circle cx="831.7" cy="390.30" r="2.65" fill="#05253b"/>
<circle cx="831.7" cy="400.24" r="2.65" fill="#04253a"/>
<circle cx="831.7" cy="410.18" r="2.65" fill="#042539"/>
<circle cx="831.7" cy="420.12" r="2.65" fill="#042438"/>
<circle cx="831.7" cy="430.06" r="2.65" fill="#042438"/>
<circle cx="831.7" cy="440.00" r="2.65" fill="#042437"/>
<circle cx="831.7" cy="449.94" r="2.65" fill="#042437"/>
<circle cx="831.7" cy="459.88" r="2.65" fill="#042437"/>
<circle cx="831.7" cy="469.82" r="2.65" fill="#042436"/>
<circle cx="831.7" cy="479.76" r="2.65" fill="#042436"/>
<circle cx="831.7" cy="489.70" r="2.65" fill="#042436"/>
<path d="M842.85 120.25V92.65A2.85 2.85 0 0 1 848.55 92.65V120.25Z" fill="#d16b6d"/>
<path d="M842.85 120.25A2.85 2.85 0 0 1 848.55 120.25V286.15A2.85 2.85 0 0 1 842.85 286.15Z" fill="url(#g48)"/>
<circle cx="845.7" cy="290.90" r="2.65" fill="#0b2d5a"/>
<circle cx="845.7" cy="300.84" r="2.65" fill="#0a2c54"/>
<circle cx="845.7" cy="310.78" r="2.65" fill="#092a4f"/>
<circle cx="845.7" cy="320.72" r="2.65" fill="#08294a"/>
<circle cx="845.7" cy="330.66" r="2.65" fill="#072847"/>
<circle cx="845.7" cy="340.60" r="2.65" fill="#062744"/>
<circle cx="845.7" cy="350.54" r="2.65" fill="#062741"/>
<circle cx="845.7" cy="360.48" r="2.65" fill="#06263f"/>
<circle cx="845.7" cy="370.42" r="2.65" fill="#05263e"/>
<circle cx="845.7" cy="380.36" r="2.65" fill="#05253c"/>
<circle cx="845.7" cy="390.30" r="2.65" fill="#05253b"/>
<circle cx="845.7" cy="400.24" r="2.65" fill="#04253a"/>
<circle cx="845.7" cy="410.18" r="2.65" fill="#042539"/>
<circle cx="845.7" cy="420.12" r="2.65" fill="#042438"/>
<circle cx="845.7" cy="430.06" r="2.65" fill="#042438"/>
<circle cx="845.7" cy="440.00" r="2.65" fill="#042437"/>
<circle cx="845.7" cy="449.94" r="2.65" fill="#042437"/>
<circle cx="845.7" cy="459.88" r="2.65" fill="#042437"/>
<circle cx="845.7" cy="469.82" r="2.65" fill="#042436"/>
<circle cx="845.7" cy="479.76" r="2.65" fill="#042436"/>
<circle cx="845.7" cy="489.70" r="2.65" fill="#042436"/>
<path d="M856.85 116.25V92.65A2.85 2.85 0 0 1 862.55 92.65V116.25Z" fill="#cd6970"/>
<path d="M856.85 116.25A2.85 2.85 0 0 1 862.55 116.25V286.15A2.85 2.85 0 0 1 856.85 286.15Z" fill="url(#g49)"/>
<circle cx="859.7" cy="290.90" r="2.65" fill="#0b2d5a"/>
<circle cx="859.7" cy="300.84" r="2.65" fill="#0a2c54"/>
<circle cx="859.7" cy="310.78" r="2.65" fill="#092a4f"/>
<circle cx="859.7" cy="320.72" r="2.65" fill="#08294a"/>
<circle cx="859.7" cy="330.66" r="2.65" fill="#072847"/>
<circle cx="859.7" cy="340.60" r="2.65" fill="#062744"/>
<circle cx="859.7" cy="350.54" r="2.65" fill="#062741"/>
<circle cx="859.7" cy="360.48" r="2.65" fill="#06263f"/>
<circle cx="859.7" cy="370.42" r="2.65" fill="#05263e"/>
<circle cx="859.7" cy="380.36" r="2.65" fill="#05253c"/>
<circle cx="859.7" cy="390.30" r="2.65" fill="#05253b"/>
<circle cx="859.7" cy="400.24" r="2.65" fill="#04253a"/>
<circle cx="859.7" cy="410.18" r="2.65" fill="#042539"/>
<circle cx="859.7" cy="420.12" r="2.65" fill="#042438"/>
<circle cx="859.7" cy="430.06" r="2.65" fill="#042438"/>
<circle cx="859.7" cy="440.00" r="2.65" fill="#042437"/>
<circle cx="859.7" cy="449.94" r="2.65" fill="#042437"/>
<circle cx="859.7" cy="459.88" r="2.65" fill="#042437"/>
<circle cx="859.7" cy="469.82" r="2.65" fill="#042436"/>
<circle cx="859.7" cy="479.76" r="2.65" fill="#042436"/>
<circle cx="859.7" cy="490.40" r="2.65" fill="#042436"/>
<path d="M871.00 113.30V92.50A2.70 2.70 0 0 1 876.40 92.50V113.30Z" fill="#c66675"/>
<path d="M871.00 113.30A2.70 2.70 0 0 1 876.40 113.30V286.30A2.70 2.70 0 0 1 871.00 286.30Z" fill="url(#g50)"/>
<circle cx="873.7" cy="290.90" r="2.65" fill="#0b2d5a"/>
<circle cx="873.7" cy="300.84" r="2.65" fill="#0a2c54"/>
<circle cx="873.7" cy="310.78" r="2.65" fill="#092a4f"/>
<circle cx="873.7" cy="320.72" r="2.65" fill="#08294a"/>
<circle cx="873.7" cy="330.66" r="2.65" fill="#072847"/>
<circle cx="873.7" cy="340.60" r="2.65" fill="#062744"/>
<circle cx="873.7" cy="350.54" r="2.65" fill="#062741"/>
<circle cx="873.7" cy="360.48" r="2.65" fill="#06263f"/>
<circle cx="873.7" cy="370.42" r="2.65" fill="#05263e"/>
<circle cx="873.7" cy="380.36" r="2.65" fill="#05253c"/>
<circle cx="873.7" cy="390.30" r="2.65" fill="#05253b"/>
<circle cx="873.7" cy="400.24" r="2.65" fill="#04253a"/>
<circle cx="873.7" cy="410.18" r="2.65" fill="#042539"/>
<circle cx="873.7" cy="420.12" r="2.65" fill="#042438"/>
<circle cx="873.7" cy="430.06" r="2.65" fill="#042438"/>
<circle cx="873.7" cy="440.00" r="2.65" fill="#042437"/>
<circle cx="873.7" cy="449.94" r="2.65" fill="#042437"/>
<circle cx="873.7" cy="459.88" r="2.65" fill="#042437"/>
<circle cx="873.7" cy="469.82" r="2.65" fill="#042436"/>
<circle cx="873.7" cy="479.76" r="2.65" fill="#042436"/>
<circle cx="873.7" cy="489.70" r="2.65" fill="#042436"/>
<path d="M886.15 117.45V92.65A2.85 2.85 0 0 1 891.85 92.65V117.45Z" fill="#c26578"/>
<path d="M886.15 117.45A2.85 2.85 0 0 1 891.85 117.45V286.15A2.85 2.85 0 0 1 886.15 286.15Z" fill="url(#g51)"/>
<circle cx="889" cy="290.90" r="2.65" fill="#0b2d5a"/>
<circle cx="889" cy="300.84" r="2.65" fill="#0a2c54"/>
<circle cx="889" cy="310.78" r="2.65" fill="#092a4f"/>
<circle cx="889" cy="320.72" r="2.65" fill="#08294a"/>
<circle cx="889" cy="330.66" r="2.65" fill="#072847"/>
<circle cx="889" cy="340.60" r="2.65" fill="#062744"/>
<circle cx="889" cy="350.54" r="2.65" fill="#062741"/>
<circle cx="889" cy="360.48" r="2.65" fill="#06263f"/>
<circle cx="889" cy="370.42" r="2.65" fill="#05263e"/>
<circle cx="889" cy="380.36" r="2.65" fill="#05253c"/>
<circle cx="889" cy="390.30" r="2.65" fill="#05253b"/>
<circle cx="889" cy="400.24" r="2.65" fill="#04253a"/>
<circle cx="889" cy="410.18" r="2.65" fill="#042539"/>
<circle cx="889" cy="420.12" r="2.65" fill="#042438"/>
<circle cx="889" cy="430.06" r="2.65" fill="#042438"/>
<circle cx="889" cy="440.00" r="2.65" fill="#042437"/>
<circle cx="889" cy="449.94" r="2.65" fill="#042437"/>
<circle cx="889" cy="459.88" r="2.65" fill="#042437"/>
<circle cx="889" cy="469.82" r="2.65" fill="#042436"/>
<circle cx="889" cy="479.76" r="2.65" fill="#042436"/>
<circle cx="889" cy="490.70" r="2.65" fill="#042436"/>
<path d="M900.10 117.90V92.70A2.90 2.90 0 0 1 905.90 92.70V117.90Z" fill="#b8617c"/>
<path d="M900.10 117.90A2.90 2.90 0 0 1 905.90 117.90V286.10A2.90 2.90 0 0 1 900.10 286.10Z" fill="url(#g52)"/>
<circle cx="903" cy="290.90" r="2.65" fill="#0b2d5a"/>
<circle cx="903" cy="300.84" r="2.65" fill="#0a2c54"/>
<circle cx="903" cy="310.78" r="2.65" fill="#092a4f"/>
<circle cx="903" cy="320.72" r="2.65" fill="#08294a"/>
<circle cx="903" cy="330.66" r="2.65" fill="#072847"/>
<circle cx="903" cy="340.60" r="2.65" fill="#062744"/>
<circle cx="903" cy="350.54" r="2.65" fill="#062741"/>
<circle cx="903" cy="360.48" r="2.65" fill="#06263f"/>
<circle cx="903" cy="370.42" r="2.65" fill="#05263e"/>
<circle cx="903" cy="380.36" r="2.65" fill="#05253c"/>
<circle cx="903" cy="390.30" r="2.65" fill="#05253b"/>
<circle cx="903" cy="400.24" r="2.65" fill="#04253a"/>
<circle cx="903" cy="410.18" r="2.65" fill="#042539"/>
<circle cx="903" cy="420.12" r="2.65" fill="#042438"/>
<circle cx="903" cy="430.06" r="2.65" fill="#042438"/>
<circle cx="903" cy="440.00" r="2.65" fill="#042437"/>
<circle cx="903" cy="449.94" r="2.65" fill="#042437"/>
<circle cx="903" cy="459.88" r="2.65" fill="#042437"/>
<circle cx="903" cy="469.82" r="2.65" fill="#042436"/>
<circle cx="903" cy="479.76" r="2.65" fill="#042436"/>
<circle cx="903" cy="489.70" r="2.65" fill="#042436"/>
<path d="M914.15 120.25V92.65A2.85 2.85 0 0 1 919.85 92.65V120.25Z" fill="#c26578"/>
<path d="M914.15 120.25A2.85 2.85 0 0 1 919.85 120.25V286.15A2.85 2.85 0 0 1 914.15 286.15Z" fill="url(#g53)"/>
<circle cx="917" cy="290.90" r="2.65" fill="#0b2d5a"/>
<circle cx="917" cy="300.84" r="2.65" fill="#0a2c54"/>
<circle cx="917" cy="310.78" r="2.65" fill="#092a4f"/>
<circle cx="917" cy="320.72" r="2.65" fill="#08294a"/>
<circle cx="917" cy="330.66" r="2.65" fill="#072847"/>
<circle cx="917" cy="340.60" r="2.65" fill="#062744"/>
<circle cx="917" cy="350.54" r="2.65" fill="#062741"/>
<circle cx="917" cy="360.48" r="2.65" fill="#06263f"/>
<circle cx="917" cy="370.42" r="2.65" fill="#05263e"/>
<circle cx="917" cy="380.36" r="2.65" fill="#05253c"/>
<circle cx="917" cy="390.30" r="2.65" fill="#05253b"/>
<circle cx="917" cy="400.24" r="2.65" fill="#04253a"/>
<circle cx="917" cy="410.18" r="2.65" fill="#042539"/>
<circle cx="917" cy="420.12" r="2.65" fill="#042438"/>
<circle cx="917" cy="430.06" r="2.65" fill="#042438"/>
<circle cx="917" cy="439.88" r="2.65" fill="#042437"/>
<circle cx="917" cy="449.70" r="2.65" fill="#042437"/>
<circle cx="917" cy="459.52" r="2.65" fill="#042437"/>
<circle cx="917" cy="469.34" r="2.65" fill="#042436"/>
<circle cx="917" cy="479.16" r="2.65" fill="#042436"/>
<path d="M929.45 114.55V92.65A2.85 2.85 0 0 1 935.15 92.65V114.55Z" fill="#b8617c"/>
<path d="M929.45 114.55A2.85 2.85 0 0 1 935.15 114.55V286.15A2.85 2.85 0 0 1 929.45 286.15Z" fill="url(#g54)"/>
<circle cx="932.3" cy="290.90" r="2.65" fill="#0b2d5a"/>
<circle cx="932.3" cy="300.84" r="2.65" fill="#0a2c54"/>
<circle cx="932.3" cy="310.78" r="2.65" fill="#092a4f"/>
<circle cx="932.3" cy="320.72" r="2.65" fill="#08294a"/>
<circle cx="932.3" cy="330.66" r="2.65" fill="#072847"/>
<circle cx="932.3" cy="340.60" r="2.65" fill="#062744"/>
<circle cx="932.3" cy="350.54" r="2.65" fill="#062741"/>
<circle cx="932.3" cy="360.48" r="2.65" fill="#06263f"/>
<circle cx="932.3" cy="370.42" r="2.65" fill="#05263e"/>
<circle cx="932.3" cy="380.36" r="2.65" fill="#05253c"/>
<circle cx="932.3" cy="390.30" r="2.65" fill="#05253b"/>
<circle cx="932.3" cy="400.24" r="2.65" fill="#04253a"/>
<circle cx="932.3" cy="410.18" r="2.65" fill="#042539"/>
<circle cx="932.3" cy="420.12" r="2.65" fill="#042438"/>
<circle cx="932.3" cy="430.06" r="2.65" fill="#042438"/>
<circle cx="932.3" cy="440.00" r="2.65" fill="#042437"/>
<circle cx="932.3" cy="449.94" r="2.65" fill="#042437"/>
<circle cx="932.3" cy="459.88" r="2.65" fill="#042437"/>
<circle cx="932.3" cy="469.82" r="2.65" fill="#042436"/>
<circle cx="932.3" cy="479.76" r="2.65" fill="#042436"/>
<circle cx="932.3" cy="489.70" r="2.65" fill="#042436"/>
<path d="M943.45 115.75V92.65A2.85 2.85 0 0 1 949.15 92.65V115.75Z" fill="#be637a"/>
<path d="M943.45 115.75A2.85 2.85 0 0 1 949.15 115.75V286.15A2.85 2.85 0 0 1 943.45 286.15Z" fill="url(#g55)"/>
<circle cx="946.3" cy="290.90" r="2.65" fill="#0b2d5a"/>
<circle cx="946.3" cy="300.84" r="2.65" fill="#0a2c54"/>
<circle cx="946.3" cy="310.78" r="2.65" fill="#092a4f"/>
<circle cx="946.3" cy="320.72" r="2.65" fill="#08294a"/>
<circle cx="946.3" cy="330.66" r="2.65" fill="#072847"/>
<circle cx="946.3" cy="340.60" r="2.65" fill="#062744"/>
<circle cx="946.3" cy="350.54" r="2.65" fill="#062741"/>
<circle cx="946.3" cy="360.48" r="2.65" fill="#06263f"/>
<circle cx="946.3" cy="370.42" r="2.65" fill="#05263e"/>
<circle cx="946.3" cy="380.36" r="2.65" fill="#05253c"/>
<circle cx="946.3" cy="390.30" r="2.65" fill="#05253b"/>
<circle cx="946.3" cy="400.24" r="2.65" fill="#04253a"/>
<circle cx="946.3" cy="410.18" r="2.65" fill="#042539"/>
<circle cx="946.3" cy="420.12" r="2.65" fill="#042438"/>
<circle cx="946.3" cy="430.06" r="2.65" fill="#042438"/>
<circle cx="946.3" cy="439.88" r="2.65" fill="#042437"/>
<circle cx="946.3" cy="449.70" r="2.65" fill="#042437"/>
<circle cx="946.3" cy="459.52" r="2.65" fill="#042437"/>
<circle cx="946.3" cy="469.34" r="2.65" fill="#042436"/>
<circle cx="946.3" cy="479.16" r="2.65" fill="#042436"/>
<path d="M957.45 105.85V92.65A2.85 2.85 0 0 1 963.15 92.65V105.85Z" fill="#bc637b"/>
<path d="M957.45 105.85A2.85 2.85 0 0 1 963.15 105.85V286.15A2.85 2.85 0 0 1 957.45 286.15Z" fill="url(#g56)"/>
<circle cx="960.3" cy="290.90" r="2.65" fill="#0b2d5a"/>
<circle cx="960.3" cy="300.84" r="2.65" fill="#0a2c54"/>
<circle cx="960.3" cy="310.78" r="2.65" fill="#092a4f"/>
<circle cx="960.3" cy="320.72" r="2.65" fill="#08294a"/>
<circle cx="960.3" cy="330.66" r="2.65" fill="#072847"/>
<circle cx="960.3" cy="340.60" r="2.65" fill="#062744"/>
<circle cx="960.3" cy="350.54" r="2.65" fill="#062741"/>
<circle cx="960.3" cy="360.48" r="2.65" fill="#06263f"/>
<circle cx="960.3" cy="370.42" r="2.65" fill="#05263e"/>
<circle cx="960.3" cy="380.36" r="2.65" fill="#05253c"/>
<circle cx="960.3" cy="390.30" r="2.65" fill="#05253b"/>
<circle cx="960.3" cy="400.24" r="2.65" fill="#04253a"/>
<circle cx="960.3" cy="410.18" r="2.65" fill="#042539"/>
<circle cx="960.3" cy="420.12" r="2.65" fill="#042438"/>
<circle cx="960.3" cy="430.06" r="2.65" fill="#042438"/>
<circle cx="960.3" cy="440.00" r="2.65" fill="#042437"/>
<circle cx="960.3" cy="449.94" r="2.65" fill="#042437"/>
<circle cx="960.3" cy="459.88" r="2.65" fill="#042437"/>
<circle cx="960.3" cy="469.82" r="2.65" fill="#042436"/>
<circle cx="960.3" cy="479.76" r="2.65" fill="#042436"/>
<circle cx="960.3" cy="489.70" r="2.65" fill="#042436"/>
<path d="M973.05 106.55V92.35A2.55 2.55 0 0 1 978.15 92.35V106.55Z" fill="#c06479"/>
<path d="M973.05 106.55A2.55 2.55 0 0 1 978.15 106.55V286.45A2.55 2.55 0 0 1 973.05 286.45Z" fill="url(#g57)"/>
<circle cx="975.6" cy="290.90" r="2.65" fill="#0b2d5a"/>
<circle cx="975.6" cy="300.84" r="2.65" fill="#0a2c54"/>
<circle cx="975.6" cy="310.78" r="2.65" fill="#092a4f"/>
<circle cx="975.6" cy="320.72" r="2.65" fill="#08294a"/>
<circle cx="975.6" cy="330.66" r="2.65" fill="#072847"/>
<circle cx="975.6" cy="340.60" r="2.65" fill="#062744"/>
<circle cx="975.6" cy="350.54" r="2.65" fill="#062741"/>
<circle cx="975.6" cy="360.48" r="2.65" fill="#06263f"/>
<circle cx="975.6" cy="370.42" r="2.65" fill="#05263e"/>
<circle cx="975.6" cy="380.36" r="2.65" fill="#05253c"/>
<circle cx="975.6" cy="390.30" r="2.65" fill="#05253b"/>
<circle cx="975.6" cy="400.24" r="2.65" fill="#04253a"/>
<circle cx="975.6" cy="410.18" r="2.65" fill="#042539"/>
<circle cx="975.6" cy="420.12" r="2.65" fill="#042438"/>
<circle cx="975.6" cy="430.06" r="2.65" fill="#042438"/>
<circle cx="975.6" cy="439.88" r="2.65" fill="#042437"/>
<circle cx="975.6" cy="449.70" r="2.65" fill="#042437"/>
<circle cx="975.6" cy="459.52" r="2.65" fill="#042437"/>
<circle cx="975.6" cy="469.34" r="2.65" fill="#042436"/>
<circle cx="975.6" cy="479.16" r="2.65" fill="#042436"/>
<path d="M987.05 98.55V92.35A2.55 2.55 0 0 1 992.15 92.35V98.55Z" fill="#d76d69"/>
<path d="M987.05 98.55A2.55 2.55 0 0 1 992.15 98.55V188.05A2.55 2.55 0 0 1 987.05 188.05Z" fill="url(#g58)"/>
<circle cx="989.6" cy="290.90" r="2.65" fill="#0b2d5a"/>
<circle cx="989.6" cy="300.84" r="2.65" fill="#0a2c54"/>
<circle cx="989.6" cy="310.78" r="2.65" fill="#092a4f"/>
<circle cx="989.6" cy="320.72" r="2.65" fill="#08294a"/>
<circle cx="989.6" cy="330.66" r="2.65" fill="#072847"/>
<circle cx="989.6" cy="340.60" r="2.65" fill="#062744"/>
<circle cx="989.6" cy="350.54" r="2.65" fill="#062741"/>
<circle cx="989.6" cy="360.48" r="2.65" fill="#06263f"/>
<circle cx="989.6" cy="370.42" r="2.65" fill="#05263e"/>
<circle cx="989.6" cy="380.36" r="2.65" fill="#05253c"/>
<circle cx="989.6" cy="390.30" r="2.65" fill="#05253b"/>
<circle cx="989.6" cy="400.24" r="2.65" fill="#04253a"/>
<circle cx="989.6" cy="410.18" r="2.65" fill="#042539"/>
<circle cx="989.6" cy="420.12" r="2.65" fill="#042438"/>
<circle cx="989.6" cy="430.06" r="2.65" fill="#042438"/>
<circle cx="989.6" cy="440.00" r="2.65" fill="#042437"/>
<circle cx="989.6" cy="449.94" r="2.65" fill="#042437"/>
<circle cx="989.6" cy="459.88" r="2.65" fill="#042437"/>
<circle cx="989.6" cy="469.82" r="2.65" fill="#042436"/>
<circle cx="989.6" cy="479.76" r="2.65" fill="#042436"/>
<circle cx="989.6" cy="489.70" r="2.65" fill="#042436"/>
<path d="M1001.15 99.45V92.25A2.45 2.45 0 0 1 1006.05 92.25V99.45Z" fill="#d76d69"/>
<path d="M1001.15 99.45A2.45 2.45 0 0 1 1006.05 99.45V286.55A2.45 2.45 0 0 1 1001.15 286.55Z" fill="url(#g59)"/>
<circle cx="1003.6" cy="290.90" r="2.65" fill="#0b2d5a"/>
<circle cx="1003.6" cy="300.84" r="2.65" fill="#0a2c54"/>
<circle cx="1003.6" cy="310.78" r="2.65" fill="#092a4f"/>
<circle cx="1003.6" cy="320.72" r="2.65" fill="#08294a"/>
<circle cx="1003.6" cy="330.66" r="2.65" fill="#072847"/>
<circle cx="1003.6" cy="340.60" r="2.65" fill="#062744"/>
<circle cx="1003.6" cy="350.54" r="2.65" fill="#062741"/>
<circle cx="1003.6" cy="360.48" r="2.65" fill="#06263f"/>
<circle cx="1003.6" cy="370.42" r="2.65" fill="#05263e"/>
<circle cx="1003.6" cy="380.36" r="2.65" fill="#05253c"/>
<circle cx="1003.6" cy="390.30" r="2.65" fill="#05253b"/>
<circle cx="1003.6" cy="400.24" r="2.65" fill="#04253a"/>
<circle cx="1003.6" cy="410.18" r="2.65" fill="#042539"/>
<circle cx="1003.6" cy="420.12" r="2.65" fill="#042438"/>
<circle cx="1003.6" cy="430.06" r="2.65" fill="#042438"/>
<circle cx="1003.6" cy="440.00" r="2.65" fill="#042437"/>
<circle cx="1003.6" cy="449.94" r="2.65" fill="#042437"/>
<circle cx="1003.6" cy="459.88" r="2.65" fill="#042437"/>
<circle cx="1003.6" cy="469.82" r="2.65" fill="#042436"/>
<circle cx="1003.6" cy="479.76" r="2.65" fill="#042436"/>
<circle cx="1003.6" cy="489.70" r="2.65" fill="#042436"/></g>
<rect x="175.5" y="72.5" width="868" height="438" fill="none" stroke="#000" stroke-width="1.11"/>
<line x1="170.6" x2="175" y1="91.5" y2="91.5" stroke="#000" stroke-width="1.11"/><text x="165.28" y="97.29" font-size="13.889" text-anchor="end">0</text>
<line x1="170.6" x2="175" y1="142.5" y2="142.5" stroke="#000" stroke-width="1.11"/><text x="165.28" y="147.79" font-size="13.889" text-anchor="end">−250</text>
<line x1="170.6" x2="175" y1="192.5" y2="192.5" stroke="#000" stroke-width="1.11"/><text x="165.28" y="198.30" font-size="13.889" text-anchor="end">−500</text>
<line x1="170.6" x2="175" y1="243.5" y2="243.5" stroke="#000" stroke-width="1.11"/><text x="165.28" y="248.80" font-size="13.889" text-anchor="end">−750</text>
<line x1="170.6" x2="175" y1="293.5" y2="293.5" stroke="#000" stroke-width="1.11"/><text x="165.28" y="299.30" font-size="13.889" text-anchor="end">−1000</text>
<line x1="170.6" x2="175" y1="344.5" y2="344.5" stroke="#000" stroke-width="1.11"/><text x="165.28" y="349.81" font-size="13.889" text-anchor="end">−1250</text>
<line x1="170.6" x2="175" y1="394.5" y2="394.5" stroke="#000" stroke-width="1.11"/><text x="165.28" y="400.31" font-size="13.889" text-anchor="end">−1500</text>
<line x1="170.6" x2="175" y1="445.5" y2="445.5" stroke="#000" stroke-width="1.11"/><text x="165.28" y="450.81" font-size="13.889" text-anchor="end">−1750</text>
<line x1="170.6" x2="175" y1="495.5" y2="495.5" stroke="#000" stroke-width="1.11"/><text x="165.28" y="501.32" font-size="13.889" text-anchor="end">−2000</text>
<line x1="213.5" x2="213.5" y1="511" y2="515.4" stroke="#000" stroke-width="1.11"/><text transform="translate(197.90 559.16) rotate(-45)" font-size="8.333">2023/11/01</text>
<line x1="298.5" x2="298.5" y1="511" y2="515.4" stroke="#000" stroke-width="1.11"/><text transform="translate(283.04 559.16) rotate(-45)" font-size="8.333">2024/01/01</text>
<line x1="382.5" x2="382.5" y1="511" y2="515.4" stroke="#000" stroke-width="1.11"/><text transform="translate(366.79 559.16) rotate(-45)" font-size="8.333">2024/03/01</text>
<line x1="467.5" x2="467.5" y1="511" y2="515.4" stroke="#000" stroke-width="1.11"/><text transform="translate(451.94 559.16) rotate(-45)" font-size="8.333">2024/05/01</text>
<line x1="552.5" x2="552.5" y1="511" y2="515.4" stroke="#000" stroke-width="1.11"/><text transform="translate(537.08 559.16) rotate(-45)" font-size="8.333">2024/07/01</text>
<line x1="639.5" x2="639.5" y1="511" y2="515.4" stroke="#000" stroke-width="1.11"/><text transform="translate(623.62 559.16) rotate(-45)" font-size="8.333">2024/09/01</text>
<line x1="724.5" x2="724.5" y1="511" y2="515.4" stroke="#000" stroke-width="1.11"/><text transform="translate(708.76 559.16) rotate(-45)" font-size="8.333">2024/11/01</text>
<line x1="809.5" x2="809.5" y1="511" y2="515.4" stroke="#000" stroke-width="1.11"/><text transform="translate(793.91 559.16) rotate(-45)" font-size="8.333">2025/01/01</text>
<line x1="892.5" x2="892.5" y1="511" y2="515.4" stroke="#000" stroke-width="1.11"/><text transform="translate(876.26 559.16) rotate(-45)" font-size="8.333">2025/03/01</text>
<line x1="977.5" x2="977.5" y1="511" y2="515.4" stroke="#000" stroke-width="1.11"/><text transform="translate(961.41 559.16) rotate(-45)" font-size="8.333">2025/05/01</text>
<text x="609.00" y="577.61" font-size="16.667" text-anchor="middle">Date</text>
<text transform="translate(108.85 292.50) rotate(-90)" font-size="13.889" text-anchor="middle">Depth (m)</text>
<text x="523.36" y="39.10" font-size="16.667">ARGO float 4903589</text>
<text font-size="16.667" style="font-kerning:none"><tspan x="507.92" y="63.38">Water Temperature (</tspan><tspan x="684.28" y="57.00" font-size="11.667" font-style="oblique">o</tspan><tspan x="691.87" y="63.38" font-style="oblique">C</tspan><tspan x="703.51" y="63.38">)</tspan></text>
<rect x="1097.5" y="72.5" width="22" height="438" fill="url(#cb)" stroke="#000" stroke-width="1.11"/>
<line x1="1120" x2="1124.4" y1="497.5" y2="497.5" stroke="#000" stroke-width="1.11"/><text x="1128.87" y="502.18" font-size="13.889">2.5</text>
<line x1="1120" x2="1124.4" y1="439.5" y2="439.5" stroke="#000" stroke-width="1.11"/><text x="1128.87" y="444.76" font-size="13.889">5.0</text>
<line x1="1120" x2="1124.4" y1="382.5" y2="382.5" stroke="#000" stroke-width="1.11"/><text x="1128.87" y="387.34" font-size="13.889">7.5</text>
<line x1="1120" x2="1124.4" y1="325.5" y2="325.5" stroke="#000" stroke-width="1.11"/><text x="1128.87" y="329.92" font-size="13.889">10.0</text>
<line x1="1120" x2="1124.4" y1="267.5" y2="267.5" stroke="#000" stroke-width="1.11"/><text x="1128.87" y="272.50" font-size="13.889">12.5</text>
<line x1="1120" x2="1124.4" y1="210.5" y2="210.5" stroke="#000" stroke-width="1.11"/><text x="1128.87" y="215.08" font-size="13.889">15.0</text>
<line x1="1120" x2="1124.4" y1="152.5" y2="152.5" stroke="#000" stroke-width="1.11"/><text x="1128.87" y="157.66" font-size="13.889">17.5</text>
<line x1="1120" x2="1124.4" y1="95.5" y2="95.5" stroke="#000" stroke-width="1.11"/><text x="1128.87" y="100.24" font-size="13.889">20.0</text>
<g transform="translate(1177.41 305.54) rotate(-90)"><text font-size="13.889"><tspan x="0" y="-0.36">(</tspan><tspan x="5.55" y="-5.67" font-size="9.722" font-style="oblique">o</tspan><tspan x="11.88" y="-0.36" font-style="oblique">C</tspan><tspan x="21.58" y="-0.36">)</tspan></text></g>
</svg>
</body></html>
